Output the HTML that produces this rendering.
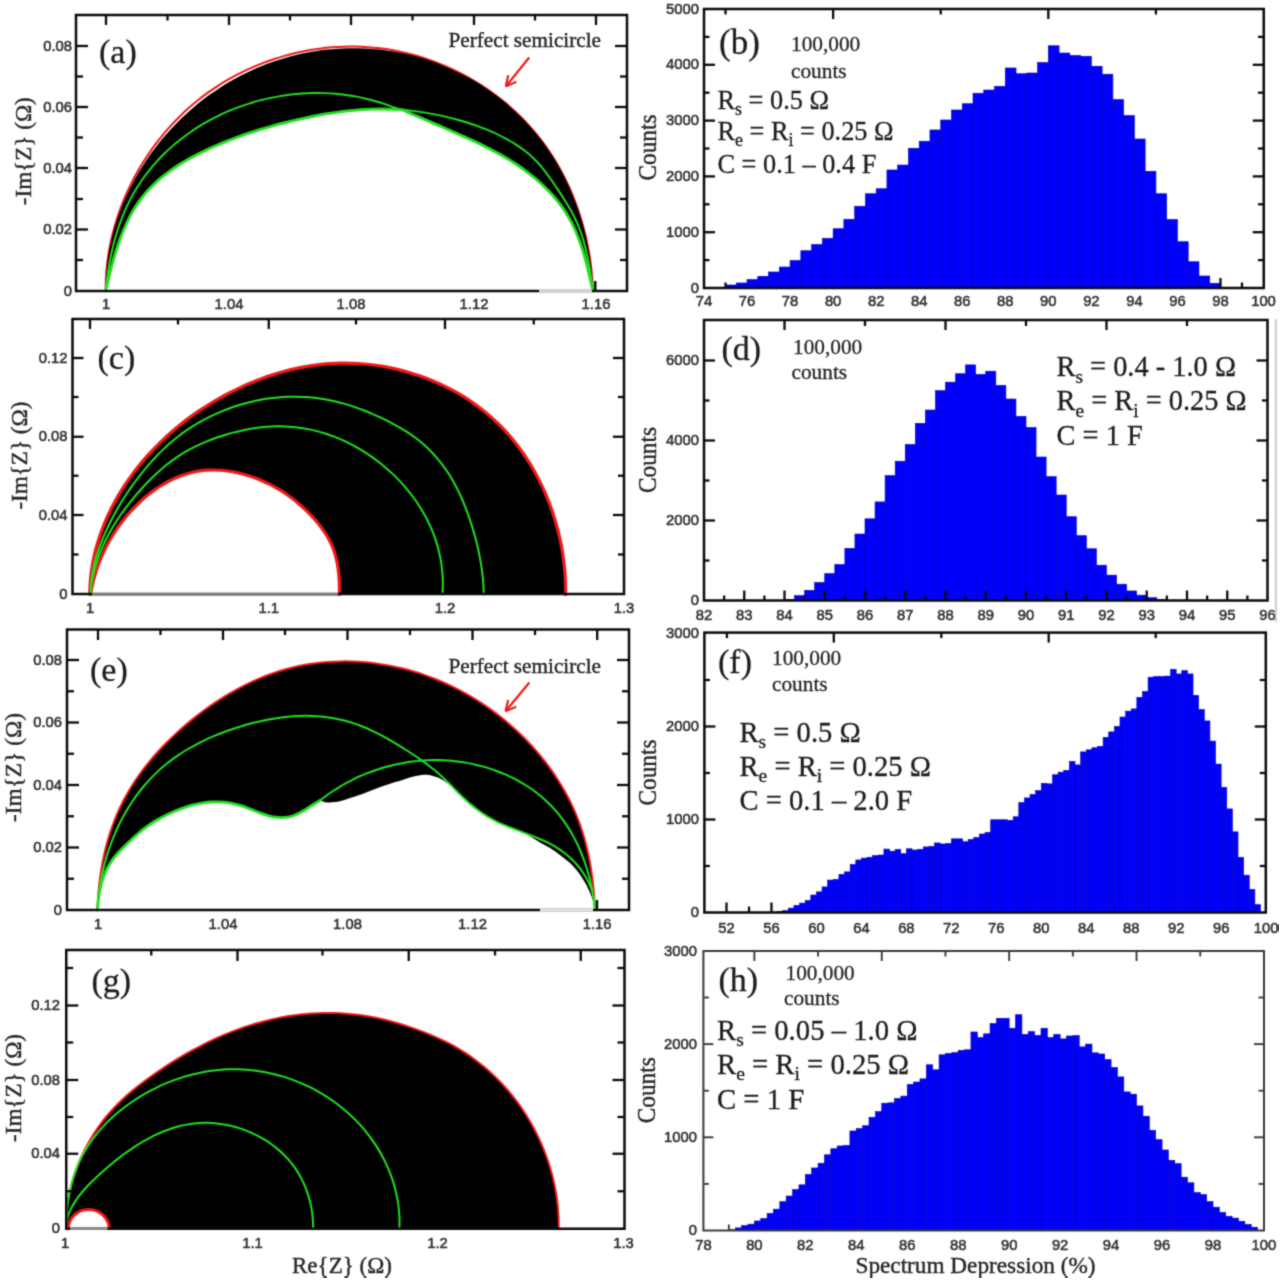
<!DOCTYPE html>
<html lang="en">
<head>
<meta charset="utf-8">
<title>Spectrum depression figure</title>
<style>
html,body{margin:0;padding:0;background:#fff;}
body{width:1280px;height:1280px;overflow:hidden;}
svg{display:block;}
</style>
</head>
<body>
<svg width="1280" height="1280" viewBox="0 0 1280 1280">
<defs>
<filter id="soft" x="0" y="0" width="100%" height="100%" color-interpolation-filters="sRGB"><feConvolveMatrix order="3" kernelMatrix="0.0311 0.1141 0.0311 0.1141 0.4191 0.1141 0.0311 0.1141 0.0311" edgeMode="duplicate"/></filter>
</defs>
<rect x="0" y="0" width="1280" height="1280" fill="#ffffff"/>
<g filter="url(#soft)">
<path d="M105.6 291C105.65 288.97 105.68 282.89 105.88 278.85C106.08 274.8 106.39 270.76 106.81 266.73C107.22 262.71 107.75 258.69 108.38 254.69C109 250.69 109.74 246.71 110.57 242.74C111.4 238.78 112.33 234.84 113.37 230.92C114.4 227 115.53 223.11 116.75 219.24C117.98 215.38 119.31 211.54 120.72 207.74C122.14 203.94 123.65 200.17 125.25 196.44C126.85 192.71 128.54 189.02 130.32 185.37C132.1 181.72 133.97 178.11 135.92 174.55C137.87 170.99 139.91 167.47 142.03 164.01C144.15 160.54 146.36 157.13 148.64 153.77C150.93 150.42 153.29 147.11 155.74 143.87C158.18 140.63 160.7 137.44 163.3 134.33C165.89 131.21 168.57 128.15 171.31 125.17C174.05 122.18 176.87 119.26 179.76 116.42C182.64 113.58 185.6 110.81 188.62 108.11C191.65 105.42 194.74 102.8 197.9 100.27C201.05 97.73 204.28 95.28 207.56 92.91C210.84 90.54 214.18 88.26 217.58 86.06C220.98 83.87 224.44 81.75 227.95 79.73C231.45 77.71 235.01 75.77 238.62 73.92C242.22 72.07 245.87 70.31 249.56 68.64C253.25 66.98 256.99 65.4 260.76 63.91C264.53 62.42 268.34 61.03 272.18 59.73C276.01 58.42 279.89 57.21 283.78 56.1C287.68 54.99 291.61 53.97 295.55 53.04C299.5 52.12 303.47 51.29 307.45 50.56C311.43 49.84 315.44 49.2 319.45 48.67C323.47 48.14 327.5 47.7 331.53 47.37C335.56 47.04 339.61 46.81 343.65 46.68C347.69 46.55 351.74 46.52 355.79 46.59C359.83 46.67 363.88 46.84 367.91 47.13C371.94 47.41 375.97 47.8 379.99 48.29C384 48.79 388.01 49.39 391.99 50.1C395.98 50.8 399.95 51.61 403.9 52.52C407.85 53.43 411.78 54.44 415.67 55.55C419.57 56.66 423.45 57.87 427.29 59.18C431.13 60.48 434.94 61.88 438.72 63.38C442.49 64.87 446.23 66.46 449.92 68.14C453.62 69.82 457.28 71.59 460.89 73.45C464.49 75.31 468.06 77.26 471.57 79.29C475.08 81.32 478.55 83.45 481.95 85.65C485.36 87.85 488.71 90.14 492 92.51C495.29 94.87 498.52 97.32 501.68 99.85C504.84 102.38 507.95 104.98 510.97 107.66C514 110.35 516.96 113.1 519.84 115.93C522.73 118.76 525.54 121.67 528.26 124.64C530.99 127.62 533.64 130.66 536.2 133.78C538.77 136.89 541.25 140.07 543.64 143.32C546.03 146.56 548.33 149.87 550.55 153.24C552.77 156.61 554.9 160.04 556.95 163.52C558.99 167 560.95 170.54 562.82 174.12C564.69 177.7 566.47 181.34 568.17 185.01C569.87 188.69 571.48 192.41 573.01 196.17C574.53 199.92 575.97 203.72 577.32 207.55C578.68 211.37 579.94 215.24 581.12 219.12C582.3 223.01 583.39 226.93 584.4 230.87C585.4 234.81 586.32 238.77 587.15 242.75C587.99 246.73 588.73 250.73 589.39 254.73C590.05 258.74 590.63 262.76 591.11 266.79C591.6 270.82 592 274.85 592.32 278.89C592.63 282.92 592.89 288.98 593 291" fill="none" stroke="#f01818" stroke-width="2" stroke-linejoin="round" stroke-linecap="round"/>
<path d="M105.6 291C105.64 289.21 105.67 283.83 105.84 280.27C106 276.71 106.25 273.15 106.59 269.62C106.92 266.09 107.35 262.57 107.85 259.07C108.35 255.57 108.93 252.09 109.6 248.63C110.26 245.17 111 241.73 111.82 238.31C112.64 234.89 113.54 231.5 114.51 228.13C115.49 224.76 116.54 221.41 117.66 218.09C118.78 214.78 119.98 211.48 121.25 208.22C122.51 204.96 123.85 201.72 125.26 198.52C126.67 195.32 128.15 192.14 129.69 189.01C131.23 185.87 132.85 182.76 134.52 179.69C136.2 176.62 137.94 173.59 139.74 170.59C141.55 167.6 143.41 164.63 145.34 161.72C147.27 158.8 149.26 155.92 151.3 153.08C153.35 150.24 155.46 147.44 157.62 144.69C159.78 141.94 162 139.23 164.27 136.57C166.54 133.9 168.87 131.29 171.25 128.72C173.63 126.15 176.06 123.63 178.55 121.16C181.03 118.69 183.56 116.27 186.14 113.9C188.72 111.54 191.35 109.22 194.02 106.96C196.7 104.7 199.42 102.5 202.18 100.35C204.95 98.2 207.75 96.11 210.6 94.08C213.45 92.05 216.35 90.07 219.28 88.16C222.21 86.25 225.18 84.39 228.19 82.6C231.19 80.82 234.24 79.09 237.32 77.43C240.4 75.77 243.52 74.17 246.67 72.65C249.82 71.12 253 69.66 256.21 68.27C259.43 66.88 262.68 65.56 265.95 64.31C269.22 63.06 272.53 61.88 275.85 60.77C279.18 59.67 282.53 58.63 285.9 57.67C289.28 56.7 292.67 55.81 296.09 54.99C299.5 54.17 302.93 53.43 306.38 52.75C309.82 52.08 313.29 51.48 316.76 50.95C320.23 50.42 323.71 49.97 327.2 49.59C330.69 49.21 334.2 48.91 337.7 48.68C341.2 48.45 344.71 48.3 348.22 48.22C351.73 48.14 355.25 48.13 358.75 48.21C362.26 48.28 365.77 48.43 369.27 48.65C372.77 48.88 376.27 49.18 379.76 49.56C383.24 49.94 386.72 50.4 390.19 50.93C393.65 51.46 397.11 52.08 400.54 52.77C403.98 53.46 407.41 54.23 410.81 55.08C414.21 55.92 417.6 56.85 420.96 57.86C424.32 58.87 427.66 59.95 430.97 61.12C434.28 62.29 437.57 63.53 440.83 64.86C444.09 66.19 445.39 66.68 450.51 69.09C455.64 71.49 466.33 76.53 471.57 79.29C476.81 82.05 478.55 83.45 481.95 85.65C485.36 87.85 488.71 90.14 492 92.51C495.29 94.87 498.52 97.32 501.68 99.85C504.84 102.38 507.95 104.98 510.97 107.66C514 110.35 516.96 113.1 519.84 115.93C522.73 118.76 525.54 121.67 528.26 124.64C530.99 127.62 533.64 130.66 536.2 133.78C538.77 136.89 541.25 140.07 543.64 143.32C546.03 146.56 548.33 149.87 550.55 153.24C552.77 156.61 554.9 160.04 556.95 163.52C558.99 167 560.95 170.54 562.82 174.12C564.69 177.7 566.47 181.34 568.17 185.01C569.87 188.69 571.48 192.41 573.01 196.17C574.53 199.92 575.97 203.72 577.32 207.55C578.68 211.37 579.94 215.24 581.12 219.12C582.3 223.01 583.39 226.93 584.4 230.87C585.4 234.81 586.32 238.77 587.15 242.75C587.99 246.73 588.73 250.73 589.39 254.73C590.05 258.74 590.63 262.76 591.11 266.79C591.6 270.82 592 274.85 592.32 278.89C592.63 282.92 592.89 288.98 593 291L593 291C592.6 289.25 591.44 284.01 590.62 280.48C589.8 276.95 588.97 273.37 588.09 269.81C587.2 266.26 586.29 262.67 585.3 259.12C584.31 255.58 583.27 252.02 582.13 248.52C581 245.02 579.8 241.53 578.48 238.11C577.17 234.69 575.77 231.31 574.23 228.01C572.69 224.71 571.05 221.47 569.26 218.33C567.47 215.19 565.55 212.13 563.51 209.16C561.47 206.18 559.3 203.29 557.04 200.49C554.78 197.68 552.39 194.96 549.93 192.32C547.46 189.68 544.89 187.13 542.25 184.65C539.61 182.18 536.87 179.78 534.09 177.47C531.3 175.15 528.43 172.92 525.52 170.77C522.61 168.61 519.63 166.54 516.62 164.53C513.6 162.53 510.54 160.6 507.44 158.73C504.34 156.86 501.19 155.06 498.01 153.3C494.84 151.54 491.62 149.85 488.39 148.18C485.15 146.52 481.88 144.91 478.59 143.33C475.3 141.74 471.99 140.2 468.66 138.68C465.34 137.15 461.99 135.66 458.64 134.17C455.29 132.69 451.93 131.23 448.57 129.76C445.21 128.3 441.84 126.84 438.48 125.38C435.11 123.93 431.75 122.46 428.39 121.02C425.03 119.58 421.66 118.13 418.29 116.73C414.92 115.32 410.56 113.7 408.17 112.58C405.78 111.46 406.45 110.56 403.97 110.01C401.48 109.46 396.83 109.46 393.26 109.29C389.69 109.12 386.11 109.01 382.54 108.98C378.96 108.96 375.39 109 371.82 109.11C368.25 109.23 364.69 109.41 361.13 109.66C357.56 109.9 354.01 110.21 350.45 110.58C346.9 110.94 343.35 111.36 339.81 111.84C336.27 112.31 332.74 112.84 329.21 113.4C325.69 113.97 322.17 114.59 318.66 115.24C315.15 115.89 311.65 116.59 308.16 117.31C304.66 118.04 301.18 118.8 297.71 119.59C294.24 120.38 290.78 121.19 287.33 122.04C283.88 122.89 280.44 123.77 277.02 124.69C273.59 125.6 270.17 126.55 266.76 127.54C263.35 128.53 259.95 129.55 256.56 130.62C253.17 131.68 249.78 132.78 246.41 133.93C243.04 135.08 239.68 136.27 236.32 137.5C232.96 138.74 229.62 140.01 226.28 141.34C222.94 142.67 219.6 144.04 216.29 145.47C212.97 146.9 209.65 148.37 206.37 149.91C203.1 151.45 199.83 153.04 196.62 154.7C193.4 156.36 190.22 158.08 187.1 159.88C183.97 161.67 180.89 163.53 177.89 165.47C174.88 167.42 171.93 169.43 169.07 171.54C166.2 173.64 163.41 175.82 160.71 178.09C158.02 180.37 155.4 182.73 152.91 185.19C150.41 187.65 148 190.2 145.72 192.86C143.45 195.51 141.28 198.27 139.24 201.13C137.2 203.99 135.29 206.97 133.49 210.01C131.68 213.05 129.99 216.2 128.4 219.4C126.8 222.59 125.32 225.87 123.91 229.19C122.5 232.51 121.19 235.89 119.94 239.29C118.7 242.7 117.54 246.15 116.43 249.61C115.33 253.07 114.3 256.56 113.32 260.04C112.33 263.51 111.41 267.01 110.52 270.48C109.63 273.94 108.79 277.41 107.97 280.83C107.15 284.25 105.99 289.31 105.6 291Z" fill="#000000" stroke="none"/>
<path d="M105.6 291C105.99 289.31 107.15 284.25 107.97 280.83C108.79 277.41 109.63 273.94 110.52 270.48C111.41 267.01 112.33 263.51 113.32 260.04C114.3 256.56 115.33 253.07 116.43 249.61C117.54 246.15 118.7 242.7 119.94 239.29C121.19 235.89 122.5 232.51 123.91 229.19C125.32 225.87 126.8 222.59 128.4 219.4C129.99 216.2 131.68 213.05 133.49 210.01C135.29 206.97 137.2 203.99 139.24 201.13C141.28 198.27 143.45 195.51 145.72 192.86C148 190.2 150.41 187.65 152.91 185.19C155.4 182.73 158.02 180.37 160.71 178.09C163.41 175.82 166.2 173.64 169.07 171.54C171.93 169.43 174.88 167.42 177.89 165.47C180.89 163.53 183.97 161.67 187.1 159.88C190.22 158.08 193.4 156.36 196.62 154.7C199.83 153.04 203.1 151.45 206.37 149.91C209.65 148.37 212.97 146.9 216.29 145.47C219.6 144.04 222.94 142.67 226.28 141.34C229.62 140.01 232.96 138.74 236.32 137.5C239.68 136.27 243.04 135.08 246.41 133.93C249.78 132.78 253.17 131.68 256.56 130.62C259.95 129.55 263.35 128.53 266.76 127.54C270.17 126.55 273.59 125.6 277.02 124.69C280.44 123.77 283.88 122.89 287.33 122.04C290.78 121.19 294.24 120.38 297.71 119.59C301.18 118.8 304.66 118.04 308.16 117.31C311.65 116.59 315.15 115.89 318.66 115.24C322.17 114.59 325.69 113.97 329.21 113.4C332.74 112.84 336.27 112.31 339.81 111.84C343.35 111.36 346.9 110.94 350.45 110.58C354.01 110.21 357.56 109.9 361.13 109.66C364.69 109.41 368.25 109.23 371.82 109.11C375.39 109 378.96 108.96 382.54 108.98C386.11 109.01 389.69 109.12 393.26 109.29C396.83 109.46 401.48 109.46 403.97 110.01C406.45 110.56 405.78 111.46 408.17 112.58C410.56 113.7 414.92 115.32 418.29 116.73C421.66 118.13 425.03 119.58 428.39 121.02C431.75 122.46 435.11 123.93 438.48 125.38C441.84 126.84 445.21 128.3 448.57 129.76C451.93 131.23 455.29 132.69 458.64 134.17C461.99 135.66 465.34 137.15 468.66 138.68C471.99 140.2 475.3 141.74 478.59 143.33C481.88 144.91 485.15 146.52 488.39 148.18C491.62 149.85 494.84 151.54 498.01 153.3C501.19 155.06 504.34 156.86 507.44 158.73C510.54 160.6 513.6 162.53 516.62 164.53C519.63 166.54 522.61 168.61 525.52 170.77C528.43 172.92 531.3 175.15 534.09 177.47C536.87 179.78 539.61 182.18 542.25 184.65C544.89 187.13 547.46 189.68 549.93 192.32C552.39 194.96 554.78 197.68 557.04 200.49C559.3 203.29 561.47 206.18 563.51 209.16C565.55 212.13 567.47 215.19 569.26 218.33C571.05 221.47 572.69 224.71 574.23 228.01C575.77 231.31 577.17 234.69 578.48 238.11C579.8 241.53 581 245.02 582.13 248.52C583.27 252.02 584.31 255.58 585.3 259.12C586.29 262.67 587.2 266.26 588.09 269.81C588.97 273.37 589.8 276.95 590.62 280.48C591.44 284.01 592.6 289.25 593 291" fill="none" stroke="#20e020" stroke-width="2.8" stroke-linejoin="round" stroke-linecap="round"/>
<path d="M105.6 291C105.8 289.22 106.35 283.88 106.81 280.3C107.27 276.72 107.78 273.12 108.36 269.53C108.94 265.93 109.58 262.32 110.3 258.73C111.01 255.14 111.79 251.54 112.65 247.97C113.51 244.39 114.43 240.83 115.45 237.3C116.46 233.76 117.54 230.24 118.72 226.77C119.9 223.3 121.15 219.85 122.51 216.45C123.86 213.05 125.3 209.69 126.84 206.39C128.37 203.09 130.01 199.83 131.74 196.64C133.47 193.45 135.3 190.32 137.23 187.25C139.15 184.18 141.17 181.18 143.27 178.23C145.37 175.29 147.57 172.41 149.84 169.6C152.12 166.79 154.48 164.05 156.91 161.37C159.35 158.7 161.86 156.09 164.45 153.55C167.03 151.02 169.7 148.55 172.42 146.16C175.15 143.77 177.94 141.45 180.8 139.21C183.66 136.97 186.58 134.8 189.56 132.71C192.53 130.62 195.57 128.61 198.66 126.68C201.75 124.75 204.89 122.9 208.08 121.12C211.27 119.35 214.51 117.66 217.78 116.05C221.06 114.44 224.39 112.91 227.75 111.47C231.11 110.02 234.51 108.66 237.94 107.38C241.37 106.1 244.83 104.9 248.32 103.79C251.81 102.67 255.33 101.64 258.88 100.7C262.42 99.76 265.98 98.9 269.56 98.13C273.15 97.36 276.75 96.67 280.36 96.07C283.97 95.47 287.6 94.96 291.23 94.54C294.87 94.12 298.51 93.78 302.15 93.54C305.8 93.29 309.45 93.13 313.09 93.07C316.73 93 320.38 93.03 324.01 93.14C327.65 93.26 331.28 93.46 334.89 93.76C338.51 94.06 342.11 94.45 345.7 94.94C349.28 95.42 352.86 96 356.4 96.67C359.95 97.34 363.47 98.12 366.98 98.97C370.48 99.82 373.96 100.77 377.42 101.78C380.88 102.79 384.32 103.89 387.75 105.04C391.18 106.18 394.59 107.4 398 108.66C401.4 109.92 404.79 111.24 408.17 112.58C411.55 113.93 414.92 115.32 418.29 116.73C421.66 118.13 425.03 119.58 428.39 121.02C431.75 122.46 435.11 123.93 438.48 125.38C441.84 126.84 445.21 128.3 448.57 129.76C451.93 131.23 455.29 132.69 458.64 134.17C461.99 135.66 465.34 137.15 468.66 138.68C471.99 140.2 475.3 141.74 478.59 143.33C481.88 144.91 485.15 146.52 488.39 148.18C491.62 149.85 494.84 151.54 498.01 153.3C501.19 155.06 504.34 156.86 507.44 158.73C510.54 160.6 513.6 162.53 516.62 164.53C519.63 166.54 522.61 168.61 525.52 170.77C528.43 172.92 531.3 175.15 534.09 177.47C536.87 179.78 539.61 182.18 542.25 184.65C544.89 187.13 547.46 189.68 549.93 192.32C552.39 194.96 554.78 197.68 557.04 200.49C559.3 203.29 561.47 206.18 563.51 209.16C565.55 212.13 567.47 215.19 569.26 218.33C571.05 221.47 572.69 224.71 574.23 228.01C575.77 231.31 577.17 234.69 578.48 238.11C579.8 241.53 581 245.02 582.13 248.52C583.27 252.02 584.31 255.58 585.3 259.12C586.29 262.67 587.2 266.26 588.09 269.81C588.97 273.37 589.8 276.95 590.62 280.48C591.44 284.01 592.6 289.25 593 291" fill="none" stroke="#20e020" stroke-width="1.9" stroke-linejoin="round" stroke-linecap="round"/>
<path d="M105.6 291C105.99 289.31 107.15 284.25 107.97 280.83C108.79 277.41 109.63 273.94 110.52 270.48C111.41 267.01 112.33 263.51 113.32 260.04C114.3 256.56 115.33 253.07 116.43 249.61C117.54 246.15 118.7 242.7 119.94 239.29C121.19 235.89 122.5 232.51 123.91 229.19C125.32 225.87 126.8 222.59 128.4 219.4C129.99 216.2 131.68 213.05 133.49 210.01C135.29 206.97 137.2 203.99 139.24 201.13C141.28 198.27 143.45 195.51 145.72 192.86C148 190.2 150.41 187.65 152.91 185.19C155.4 182.73 158.02 180.37 160.71 178.09C163.41 175.82 166.2 173.64 169.07 171.54C171.93 169.43 174.88 167.42 177.89 165.47C180.89 163.53 183.97 161.67 187.1 159.88C190.22 158.08 193.4 156.36 196.62 154.7C199.83 153.04 203.1 151.45 206.37 149.91C209.65 148.37 212.97 146.9 216.29 145.47C219.6 144.04 222.94 142.67 226.28 141.34C229.62 140.01 232.96 138.74 236.32 137.5C239.68 136.27 243.04 135.08 246.41 133.93C249.78 132.78 253.17 131.68 256.56 130.62C259.95 129.55 263.35 128.53 266.76 127.54C270.17 126.55 273.59 125.6 277.02 124.69C280.44 123.77 283.88 122.89 287.33 122.04C290.78 121.19 294.24 120.38 297.71 119.59C301.18 118.8 304.66 118.04 308.16 117.31C311.65 116.59 315.15 115.89 318.66 115.24C322.17 114.59 325.69 113.97 329.21 113.4C332.74 112.84 336.27 112.31 339.81 111.84C343.35 111.36 346.9 110.94 350.45 110.58C354.01 110.21 357.56 109.9 361.13 109.66C364.69 109.41 368.25 109.23 371.82 109.11C375.39 109 378.96 108.96 382.54 108.98C386.11 109.01 389.69 109.12 393.26 109.29C396.83 109.46 400.4 109.7 403.97 110.01C407.53 110.32 411.1 110.7 414.65 111.15C418.2 111.59 421.74 112.1 425.28 112.68C428.81 113.25 432.33 113.89 435.84 114.59C439.34 115.29 442.84 116.05 446.31 116.87C449.78 117.69 453.24 118.58 456.67 119.51C460.11 120.45 463.52 121.44 466.91 122.5C470.3 123.56 473.67 124.67 477.01 125.87C480.35 127.07 483.66 128.33 486.95 129.68C490.24 131.04 493.5 132.47 496.73 134C499.95 135.54 503.17 137.16 506.32 138.89C509.46 140.63 512.59 142.46 515.61 144.4C518.63 146.35 521.61 148.39 524.44 150.57C527.28 152.74 530.04 155.02 532.63 157.43C535.23 159.84 537.69 162.38 540.01 165.03C542.34 167.68 544.45 170.49 546.57 173.33C548.69 176.16 550.69 179.09 552.72 182.02C554.75 184.95 556.76 187.91 558.74 190.89C560.71 193.87 562.68 196.86 564.58 199.89C566.47 202.91 568.34 205.95 570.09 209.05C571.84 212.15 573.52 215.28 575.05 218.48C576.58 221.68 577.98 224.95 579.27 228.27C580.55 231.59 581.7 234.98 582.76 238.39C583.81 241.81 584.75 245.28 585.62 248.76C586.49 252.24 587.25 255.76 587.97 259.29C588.69 262.81 589.31 266.36 589.91 269.89C590.51 273.43 591.04 276.97 591.55 280.49C592.07 284.01 592.76 289.25 593 291" fill="none" stroke="#20e020" stroke-width="1.9" stroke-linejoin="round" stroke-linecap="round"/>
<rect x="76" y="15" width="551" height="276" fill="none" stroke="#0a0a0a" stroke-width="2.5"/>
<line x1="106" y1="15" x2="106" y2="25" stroke="#0a0a0a" stroke-width="2.3"/>
<line x1="229" y1="15" x2="229" y2="25" stroke="#0a0a0a" stroke-width="2.3"/>
<line x1="351" y1="15" x2="351" y2="25" stroke="#0a0a0a" stroke-width="2.3"/>
<line x1="474" y1="15" x2="474" y2="25" stroke="#0a0a0a" stroke-width="2.3"/>
<line x1="596" y1="15" x2="596" y2="25" stroke="#0a0a0a" stroke-width="2.3"/>
<line x1="167.5" y1="15" x2="167.5" y2="20.5" stroke="#0a0a0a" stroke-width="2.3"/>
<line x1="290" y1="15" x2="290" y2="20.5" stroke="#0a0a0a" stroke-width="2.3"/>
<line x1="412.5" y1="15" x2="412.5" y2="20.5" stroke="#0a0a0a" stroke-width="2.3"/>
<line x1="535" y1="15" x2="535" y2="20.5" stroke="#0a0a0a" stroke-width="2.3"/>
<line x1="76" y1="46" x2="88" y2="46" stroke="#0a0a0a" stroke-width="2.3"/>
<line x1="76" y1="107" x2="88" y2="107" stroke="#0a0a0a" stroke-width="2.3"/>
<line x1="76" y1="168" x2="88" y2="168" stroke="#0a0a0a" stroke-width="2.3"/>
<line x1="76" y1="229.5" x2="88" y2="229.5" stroke="#0a0a0a" stroke-width="2.3"/>
<line x1="76" y1="76.5" x2="83" y2="76.5" stroke="#0a0a0a" stroke-width="2.3"/>
<line x1="76" y1="137.5" x2="83" y2="137.5" stroke="#0a0a0a" stroke-width="2.3"/>
<line x1="76" y1="199" x2="83" y2="199" stroke="#0a0a0a" stroke-width="2.3"/>
<line x1="76" y1="260" x2="83" y2="260" stroke="#0a0a0a" stroke-width="2.3"/>
<line x1="627" y1="46" x2="615" y2="46" stroke="#0a0a0a" stroke-width="2.3"/>
<line x1="627" y1="107" x2="615" y2="107" stroke="#0a0a0a" stroke-width="2.3"/>
<line x1="627" y1="168" x2="615" y2="168" stroke="#0a0a0a" stroke-width="2.3"/>
<line x1="627" y1="229.5" x2="615" y2="229.5" stroke="#0a0a0a" stroke-width="2.3"/>
<line x1="627" y1="76.5" x2="620" y2="76.5" stroke="#0a0a0a" stroke-width="2.3"/>
<line x1="627" y1="137.5" x2="620" y2="137.5" stroke="#0a0a0a" stroke-width="2.3"/>
<line x1="627" y1="199" x2="620" y2="199" stroke="#0a0a0a" stroke-width="2.3"/>
<line x1="627" y1="260" x2="620" y2="260" stroke="#0a0a0a" stroke-width="2.3"/>
<line x1="595.3" y1="291" x2="595.3" y2="281" stroke="#0a0a0a" stroke-width="2.4"/>
<line x1="539" y1="291" x2="592" y2="291" stroke="#d4d4d4" stroke-width="2.8"/>
<text x="106" y="309.3" font-size="14.8" font-family='"Liberation Sans", Arial, sans-serif' text-anchor="middle" fill="#333" stroke="#333" stroke-width="0.55">1</text>
<text x="229" y="309.3" font-size="14.8" font-family='"Liberation Sans", Arial, sans-serif' text-anchor="middle" fill="#333" stroke="#333" stroke-width="0.55">1.04</text>
<text x="351" y="309.3" font-size="14.8" font-family='"Liberation Sans", Arial, sans-serif' text-anchor="middle" fill="#333" stroke="#333" stroke-width="0.55">1.08</text>
<text x="474" y="309.3" font-size="14.8" font-family='"Liberation Sans", Arial, sans-serif' text-anchor="middle" fill="#333" stroke="#333" stroke-width="0.55">1.12</text>
<text x="596" y="309.3" font-size="14.8" font-family='"Liberation Sans", Arial, sans-serif' text-anchor="middle" fill="#333" stroke="#333" stroke-width="0.55">1.16</text>
<text x="72" y="50.6" font-size="14.8" font-family='"Liberation Sans", Arial, sans-serif' text-anchor="end" fill="#333" stroke="#333" stroke-width="0.55">0.08</text>
<text x="72" y="111.6" font-size="14.8" font-family='"Liberation Sans", Arial, sans-serif' text-anchor="end" fill="#333" stroke="#333" stroke-width="0.55">0.06</text>
<text x="72" y="172.6" font-size="14.8" font-family='"Liberation Sans", Arial, sans-serif' text-anchor="end" fill="#333" stroke="#333" stroke-width="0.55">0.04</text>
<text x="72" y="234.1" font-size="14.8" font-family='"Liberation Sans", Arial, sans-serif' text-anchor="end" fill="#333" stroke="#333" stroke-width="0.55">0.02</text>
<text x="72" y="295.6" font-size="14.8" font-family='"Liberation Sans", Arial, sans-serif' text-anchor="end" fill="#333" stroke="#333" stroke-width="0.55">0</text>
<text transform="translate(31 151.25) rotate(-90)" font-size="24" font-family='"Liberation Serif", "Times New Roman", serif' text-anchor="middle" fill="#262626" textLength="108" lengthAdjust="spacingAndGlyphs" stroke="#262626" stroke-width="0.4">-Im{Z} (Ω)</text>
<text x="99" y="62.5" font-size="34" font-family='"Liberation Serif", "Times New Roman", serif' text-anchor="start" fill="#1c1c1c" stroke="#1c1c1c" stroke-width="0.3">(a)</text>
<text x="448.5" y="47.3" font-size="21" font-family='"Liberation Serif", "Times New Roman", serif' text-anchor="start" fill="#262626" textLength="152.5" lengthAdjust="spacingAndGlyphs" stroke="#262626" stroke-width="0.4">Perfect semicircle</text>
<line x1="529.2" y1="57.5" x2="505.8" y2="86.4" stroke="#f01818" stroke-width="2.2"/>
<line x1="505.8" y1="86.4" x2="508.2" y2="75.15" stroke="#f01818" stroke-width="2.2"/>
<line x1="505.8" y1="86.4" x2="516.3" y2="81.71" stroke="#f01818" stroke-width="2.2"/>
<path d="M89.75 594.4C89.83 592.44 89.94 586.55 90.22 582.65C90.51 578.76 90.93 574.88 91.46 571.03C91.99 567.18 92.65 563.36 93.42 559.56C94.19 555.76 95.09 551.99 96.08 548.25C97.08 544.52 98.2 540.81 99.41 537.13C100.62 533.46 101.95 529.82 103.37 526.22C104.79 522.62 106.32 519.05 107.93 515.53C109.55 512 111.27 508.52 113.07 505.08C114.87 501.64 116.77 498.24 118.74 494.89C120.72 491.54 122.79 488.24 124.93 484.98C127.07 481.73 129.29 478.53 131.59 475.38C133.88 472.23 136.26 469.13 138.69 466.09C141.13 463.05 143.64 460.06 146.21 457.13C148.78 454.21 151.42 451.34 154.11 448.54C156.81 445.73 159.56 442.99 162.37 440.31C165.18 437.62 168.05 435 170.97 432.45C173.9 429.89 176.87 427.39 179.9 424.96C182.92 422.53 186 420.16 189.12 417.85C192.25 415.55 195.42 413.3 198.64 411.12C201.85 408.95 205.12 406.83 208.42 404.78C211.72 402.73 215.07 400.75 218.46 398.83C221.84 396.91 225.26 395.05 228.72 393.27C232.18 391.48 235.68 389.75 239.21 388.1C242.74 386.44 246.3 384.85 249.89 383.33C253.48 381.82 257.11 380.37 260.76 379C264.4 377.63 268.08 376.33 271.79 375.12C275.49 373.91 279.22 372.77 282.97 371.73C286.72 370.69 290.49 369.73 294.28 368.86C298.07 368 301.88 367.22 305.71 366.55C309.54 365.87 313.39 365.29 317.24 364.81C321.1 364.34 324.98 363.96 328.86 363.69C332.74 363.42 336.64 363.25 340.53 363.18C344.43 363.11 348.33 363.14 352.23 363.28C356.12 363.41 360.02 363.64 363.91 363.98C367.79 364.31 371.68 364.74 375.54 365.27C379.41 365.8 383.26 366.43 387.1 367.15C390.93 367.88 394.75 368.7 398.54 369.62C402.33 370.53 406.1 371.55 409.83 372.66C413.57 373.76 417.27 374.97 420.94 376.26C424.61 377.56 428.25 378.95 431.84 380.43C435.43 381.91 438.99 383.48 442.49 385.15C445.99 386.81 449.45 388.57 452.85 390.42C456.26 392.26 459.61 394.2 462.9 396.23C466.19 398.25 469.43 400.37 472.6 402.57C475.77 404.77 478.88 407.06 481.92 409.44C484.95 411.82 487.92 414.28 490.81 416.83C493.7 419.38 496.52 422.02 499.26 424.73C501.99 427.45 504.65 430.26 507.23 433.13C509.8 436.01 512.3 438.97 514.71 442C517.13 445.02 519.46 448.13 521.71 451.29C523.96 454.45 526.13 457.68 528.21 460.97C530.3 464.25 532.3 467.6 534.21 471C536.13 474.4 537.96 477.86 539.71 481.35C541.46 484.85 543.12 488.4 544.7 491.99C546.27 495.57 547.76 499.2 549.16 502.87C550.57 506.53 551.88 510.23 553.11 513.95C554.34 517.68 555.48 521.44 556.53 525.22C557.57 528.99 558.54 532.8 559.41 536.61C560.28 540.43 561.06 544.27 561.75 548.11C562.44 551.96 563.04 555.82 563.54 559.68C564.05 563.54 564.47 567.41 564.79 571.27C565.11 575.14 565.34 579 565.48 582.86C565.61 586.71 565.58 592.48 565.6 594.4L339.4 594.4C339.4 593.22 339.46 589.7 339.43 587.34C339.4 584.98 339.33 582.6 339.21 580.24C339.08 577.87 338.91 575.5 338.67 573.14C338.42 570.79 338.13 568.44 337.75 566.12C337.37 563.8 336.92 561.48 336.38 559.21C335.85 556.94 335.23 554.69 334.51 552.48C333.8 550.28 332.98 548.11 332.08 545.99C331.17 543.86 330.16 541.78 329.08 539.74C328 537.7 326.82 535.7 325.59 533.74C324.35 531.78 323.03 529.86 321.66 527.98C320.28 526.11 318.84 524.27 317.35 522.47C315.86 520.66 314.32 518.9 312.73 517.18C311.15 515.45 309.52 513.77 307.87 512.12C306.21 510.47 304.52 508.86 302.8 507.29C301.07 505.72 299.32 504.18 297.53 502.69C295.74 501.2 293.92 499.75 292.07 498.34C290.22 496.93 288.34 495.57 286.42 494.25C284.5 492.93 282.56 491.65 280.58 490.42C278.6 489.19 276.59 488.01 274.54 486.87C272.5 485.74 270.42 484.65 268.32 483.62C266.21 482.58 264.07 481.59 261.9 480.66C259.73 479.72 257.53 478.84 255.3 478.01C253.08 477.18 250.82 476.41 248.54 475.7C246.26 474.98 243.96 474.33 241.65 473.74C239.34 473.15 237.01 472.62 234.67 472.17C232.34 471.71 229.99 471.32 227.64 471C225.29 470.69 222.93 470.44 220.58 470.27C218.24 470.11 215.88 470.01 213.55 470C211.21 469.99 208.88 470.06 206.56 470.22C204.25 470.37 201.95 470.61 199.67 470.94C197.39 471.27 195.13 471.69 192.89 472.2C190.65 472.7 188.44 473.29 186.24 473.96C184.05 474.62 181.88 475.38 179.74 476.2C177.6 477.02 175.48 477.92 173.39 478.88C171.3 479.85 169.24 480.89 167.2 481.99C165.17 483.09 163.16 484.26 161.18 485.49C159.21 486.71 157.26 488 155.34 489.35C153.43 490.69 151.54 492.09 149.69 493.54C147.84 494.98 146.02 496.49 144.24 498.03C142.46 499.57 140.71 501.17 139 502.8C137.29 504.43 135.61 506.1 133.98 507.81C132.34 509.52 130.74 511.26 129.18 513.04C127.62 514.81 126.1 516.62 124.62 518.45C123.14 520.29 121.7 522.16 120.3 524.05C118.9 525.94 117.55 527.86 116.23 529.81C114.92 531.76 113.64 533.73 112.42 535.73C111.19 537.73 110 539.75 108.86 541.8C107.72 543.84 106.63 545.91 105.58 548C104.53 550.09 103.53 552.2 102.57 554.33C101.61 556.46 100.7 558.61 99.84 560.78C98.97 562.94 98.16 565.13 97.39 567.33C96.63 569.53 95.91 571.75 95.24 573.98C94.57 576.21 93.95 578.46 93.39 580.71C92.82 582.97 92.3 585.24 91.84 587.52C91.37 589.81 90.81 593.25 90.6 594.4Z" fill="#000000" stroke="none"/>
<path d="M89.75 594.4C89.83 592.44 89.94 586.55 90.22 582.65C90.51 578.76 90.93 574.88 91.46 571.03C91.99 567.18 92.65 563.36 93.42 559.56C94.19 555.76 95.09 551.99 96.08 548.25C97.08 544.52 98.2 540.81 99.41 537.13C100.62 533.46 101.95 529.82 103.37 526.22C104.79 522.62 106.32 519.05 107.93 515.53C109.55 512 111.27 508.52 113.07 505.08C114.87 501.64 116.77 498.24 118.74 494.89C120.72 491.54 122.79 488.24 124.93 484.98C127.07 481.73 129.29 478.53 131.59 475.38C133.88 472.23 136.26 469.13 138.69 466.09C141.13 463.05 143.64 460.06 146.21 457.13C148.78 454.21 151.42 451.34 154.11 448.54C156.81 445.73 159.56 442.99 162.37 440.31C165.18 437.62 168.05 435 170.97 432.45C173.9 429.89 176.87 427.39 179.9 424.96C182.92 422.53 186 420.16 189.12 417.85C192.25 415.55 195.42 413.3 198.64 411.12C201.85 408.95 205.12 406.83 208.42 404.78C211.72 402.73 215.07 400.75 218.46 398.83C221.84 396.91 225.26 395.05 228.72 393.27C232.18 391.48 235.68 389.75 239.21 388.1C242.74 386.44 246.3 384.85 249.89 383.33C253.48 381.82 257.11 380.37 260.76 379C264.4 377.63 268.08 376.33 271.79 375.12C275.49 373.91 279.22 372.77 282.97 371.73C286.72 370.69 290.49 369.73 294.28 368.86C298.07 368 301.88 367.22 305.71 366.55C309.54 365.87 313.39 365.29 317.24 364.81C321.1 364.34 324.98 363.96 328.86 363.69C332.74 363.42 336.64 363.25 340.53 363.18C344.43 363.11 348.33 363.14 352.23 363.28C356.12 363.41 360.02 363.64 363.91 363.98C367.79 364.31 371.68 364.74 375.54 365.27C379.41 365.8 383.26 366.43 387.1 367.15C390.93 367.88 394.75 368.7 398.54 369.62C402.33 370.53 406.1 371.55 409.83 372.66C413.57 373.76 417.27 374.97 420.94 376.26C424.61 377.56 428.25 378.95 431.84 380.43C435.43 381.91 438.99 383.48 442.49 385.15C445.99 386.81 449.45 388.57 452.85 390.42C456.26 392.26 459.61 394.2 462.9 396.23C466.19 398.25 469.43 400.37 472.6 402.57C475.77 404.77 478.88 407.06 481.92 409.44C484.95 411.82 487.92 414.28 490.81 416.83C493.7 419.38 496.52 422.02 499.26 424.73C501.99 427.45 504.65 430.26 507.23 433.13C509.8 436.01 512.3 438.97 514.71 442C517.13 445.02 519.46 448.13 521.71 451.29C523.96 454.45 526.13 457.68 528.21 460.97C530.3 464.25 532.3 467.6 534.21 471C536.13 474.4 537.96 477.86 539.71 481.35C541.46 484.85 543.12 488.4 544.7 491.99C546.27 495.57 547.76 499.2 549.16 502.87C550.57 506.53 551.88 510.23 553.11 513.95C554.34 517.68 555.48 521.44 556.53 525.22C557.57 528.99 558.54 532.8 559.41 536.61C560.28 540.43 561.06 544.27 561.75 548.11C562.44 551.96 563.04 555.82 563.54 559.68C564.05 563.54 564.47 567.41 564.79 571.27C565.11 575.14 565.34 579 565.48 582.86C565.61 586.71 565.58 592.48 565.6 594.4" fill="none" stroke="#f01818" stroke-width="3.2" stroke-linejoin="round" stroke-linecap="round"/>
<path d="M90.6 594.4C90.81 593.25 91.37 589.81 91.84 587.52C92.3 585.24 92.82 582.97 93.39 580.71C93.95 578.46 94.57 576.21 95.24 573.98C95.91 571.75 96.63 569.53 97.39 567.33C98.16 565.13 98.97 562.94 99.84 560.78C100.7 558.61 101.61 556.46 102.57 554.33C103.53 552.2 104.53 550.09 105.58 548C106.63 545.91 107.72 543.84 108.86 541.8C110 539.75 111.19 537.73 112.42 535.73C113.64 533.73 114.92 531.76 116.23 529.81C117.55 527.86 118.9 525.94 120.3 524.05C121.7 522.16 123.14 520.29 124.62 518.45C126.1 516.62 127.62 514.81 129.18 513.04C130.74 511.26 132.34 509.52 133.98 507.81C135.61 506.1 137.29 504.43 139 502.8C140.71 501.17 142.46 499.57 144.24 498.03C146.02 496.49 147.84 494.98 149.69 493.54C151.54 492.09 153.43 490.69 155.34 489.35C157.26 488 159.21 486.71 161.18 485.49C163.16 484.26 165.17 483.09 167.2 481.99C169.24 480.89 171.3 479.85 173.39 478.88C175.48 477.92 177.6 477.02 179.74 476.2C181.88 475.38 184.05 474.62 186.24 473.96C188.44 473.29 190.65 472.7 192.89 472.2C195.13 471.69 197.39 471.27 199.67 470.94C201.95 470.61 204.25 470.37 206.56 470.22C208.88 470.06 211.21 469.99 213.55 470C215.88 470.01 218.24 470.11 220.58 470.27C222.93 470.44 225.29 470.69 227.64 471C229.99 471.32 232.34 471.71 234.67 472.17C237.01 472.62 239.34 473.15 241.65 473.74C243.96 474.33 246.26 474.98 248.54 475.7C250.82 476.41 253.08 477.18 255.3 478.01C257.53 478.84 259.73 479.72 261.9 480.66C264.07 481.59 266.21 482.58 268.32 483.62C270.42 484.65 272.5 485.74 274.54 486.87C276.59 488.01 278.6 489.19 280.58 490.42C282.56 491.65 284.5 492.93 286.42 494.25C288.34 495.57 290.22 496.93 292.07 498.34C293.92 499.75 295.74 501.2 297.53 502.69C299.32 504.18 301.07 505.72 302.8 507.29C304.52 508.86 306.21 510.47 307.87 512.12C309.52 513.77 311.15 515.45 312.73 517.18C314.32 518.9 315.86 520.66 317.35 522.47C318.84 524.27 320.28 526.11 321.66 527.98C323.03 529.86 324.35 531.78 325.59 533.74C326.82 535.7 328 537.7 329.08 539.74C330.16 541.78 331.17 543.86 332.08 545.99C332.98 548.11 333.8 550.28 334.51 552.48C335.23 554.69 335.85 556.94 336.38 559.21C336.92 561.48 337.37 563.8 337.75 566.12C338.13 568.44 338.42 570.79 338.67 573.14C338.91 575.5 339.08 577.87 339.21 580.24C339.33 582.6 339.4 584.98 339.43 587.34C339.46 589.7 339.4 593.22 339.4 594.4" fill="none" stroke="#f01818" stroke-width="3.2" stroke-linejoin="round" stroke-linecap="round"/>
<path d="M90.6 594.4C90.66 592.75 90.73 587.77 90.99 584.5C91.25 581.23 91.65 577.99 92.16 574.78C92.67 571.57 93.3 568.38 94.03 565.23C94.77 562.07 95.62 558.95 96.55 555.84C97.48 552.74 98.52 549.67 99.62 546.61C100.73 543.56 101.93 540.53 103.19 537.53C104.45 534.53 105.79 531.55 107.18 528.59C108.57 525.63 110.02 522.69 111.52 519.78C113.02 516.86 114.58 513.97 116.18 511.11C117.79 508.25 119.45 505.41 121.15 502.6C122.86 499.8 124.62 497.02 126.42 494.28C128.22 491.53 130.07 488.82 131.96 486.14C133.85 483.47 135.78 480.83 137.75 478.23C139.73 475.62 141.74 473.06 143.8 470.54C145.86 468.02 147.96 465.53 150.1 463.1C152.25 460.67 154.44 458.28 156.68 455.95C158.92 453.61 161.2 451.33 163.54 449.1C165.88 446.87 168.27 444.7 170.71 442.59C173.16 440.47 175.65 438.42 178.21 436.43C180.77 434.44 183.38 432.52 186.05 430.66C188.72 428.81 191.46 427.02 194.24 425.3C197.03 423.58 199.87 421.93 202.76 420.36C205.64 418.79 208.58 417.28 211.55 415.86C214.52 414.43 217.54 413.07 220.58 411.8C223.63 410.52 226.71 409.32 229.82 408.2C232.92 407.08 236.06 406.03 239.21 405.07C242.37 404.1 245.54 403.22 248.73 402.42C251.92 401.62 255.12 400.9 258.33 400.26C261.54 399.63 264.75 399.08 267.97 398.61C271.19 398.15 274.42 397.77 277.64 397.47C280.86 397.17 284.09 396.96 287.32 396.84C290.54 396.71 293.77 396.67 296.99 396.72C300.22 396.77 303.44 396.9 306.65 397.12C309.87 397.33 313.08 397.64 316.29 398.03C319.49 398.42 322.69 398.9 325.88 399.46C329.07 400.03 332.25 400.68 335.41 401.42C338.58 402.16 341.74 402.99 344.89 403.89C348.03 404.8 351.16 405.8 354.28 406.86C357.39 407.93 360.49 409.07 363.57 410.27C366.65 411.47 369.71 412.74 372.75 414.05C375.79 415.37 378.82 416.74 381.81 418.16C384.8 419.58 387.78 421.04 390.7 422.56C393.63 424.09 396.53 425.66 399.37 427.3C402.21 428.95 405.01 430.65 407.73 432.44C410.46 434.23 413.13 436.08 415.71 438.03C418.3 439.97 420.81 442 423.24 444.12C425.66 446.23 428.01 448.44 430.27 450.72C432.53 453.01 434.7 455.38 436.8 457.82C438.89 460.26 440.9 462.78 442.83 465.36C444.76 467.94 446.61 470.6 448.37 473.32C450.13 476.03 451.81 478.82 453.41 481.65C455.01 484.49 456.52 487.39 457.97 490.32C459.42 493.26 460.78 496.25 462.09 499.27C463.4 502.28 464.63 505.34 465.82 508.42C467 511.49 468.12 514.6 469.2 517.72C470.27 520.83 471.29 523.96 472.26 527.1C473.23 530.24 474.16 533.39 475.02 536.55C475.88 539.71 476.7 542.89 477.44 546.07C478.19 549.25 478.89 552.44 479.51 555.63C480.14 558.83 480.7 562.04 481.2 565.26C481.69 568.47 482.13 571.7 482.48 574.93C482.84 578.16 483.13 581.4 483.34 584.64C483.55 587.89 483.68 592.77 483.75 594.4" fill="none" stroke="#20e020" stroke-width="2" stroke-linejoin="round" stroke-linecap="round"/>
<path d="M90.6 594.4C90.73 592.97 91.03 588.67 91.39 585.84C91.75 583.02 92.21 580.21 92.75 577.43C93.28 574.66 93.92 571.9 94.63 569.17C95.34 566.45 96.14 563.74 97.01 561.07C97.89 558.39 98.84 555.74 99.86 553.11C100.89 550.49 101.99 547.89 103.15 545.32C104.31 542.75 105.55 540.2 106.84 537.69C108.13 535.17 109.49 532.68 110.91 530.22C112.32 527.76 113.79 525.32 115.31 522.92C116.83 520.51 118.4 518.13 120.02 515.78C121.64 513.43 123.31 511.11 125.01 508.82C126.71 506.53 128.46 504.26 130.25 502.03C132.03 499.8 133.85 497.6 135.69 495.42C137.54 493.25 139.42 491.1 141.32 488.99C143.23 486.88 145.16 484.8 147.12 482.76C149.09 480.72 151.08 478.71 153.11 476.75C155.14 474.79 157.2 472.86 159.3 470.99C161.4 469.12 163.54 467.3 165.72 465.53C167.91 463.77 170.13 462.05 172.39 460.39C174.66 458.74 176.97 457.14 179.33 455.61C181.69 454.08 184.1 452.62 186.55 451.21C189 449.81 191.5 448.47 194.03 447.2C196.56 445.92 199.14 444.7 201.74 443.55C204.33 442.39 206.97 441.29 209.63 440.25C212.28 439.21 214.97 438.23 217.67 437.3C220.37 436.37 223.1 435.49 225.84 434.67C228.57 433.85 231.33 433.08 234.09 432.37C236.85 431.66 239.62 431 242.41 430.4C245.19 429.81 247.98 429.27 250.78 428.8C253.58 428.33 256.38 427.91 259.19 427.57C262 427.23 264.81 426.95 267.63 426.75C270.44 426.54 273.25 426.41 276.07 426.35C278.88 426.29 281.69 426.3 284.5 426.39C287.31 426.48 290.12 426.65 292.91 426.9C295.71 427.15 298.51 427.48 301.29 427.89C304.07 428.3 306.85 428.8 309.61 429.38C312.37 429.96 315.12 430.62 317.85 431.35C320.59 432.09 323.31 432.9 326.01 433.79C328.7 434.67 331.39 435.63 334.04 436.66C336.7 437.69 339.34 438.79 341.95 439.95C344.55 441.12 347.14 442.35 349.69 443.65C352.24 444.94 354.77 446.3 357.26 447.72C359.75 449.14 362.21 450.62 364.64 452.16C367.06 453.69 369.45 455.29 371.79 456.94C374.14 458.58 376.45 460.28 378.72 462.03C380.98 463.78 383.21 465.58 385.38 467.43C387.56 469.28 389.69 471.18 391.77 473.12C393.85 475.06 395.89 477.05 397.87 479.08C399.85 481.11 401.78 483.19 403.66 485.31C405.53 487.42 407.35 489.59 409.12 491.79C410.88 493.99 412.59 496.23 414.23 498.51C415.88 500.8 417.46 503.12 418.99 505.48C420.51 507.83 421.97 510.23 423.36 512.66C424.75 515.09 426.08 517.55 427.34 520.05C428.6 522.55 429.79 525.09 430.91 527.65C432.03 530.21 433.07 532.81 434.05 535.44C435.02 538.06 435.92 540.72 436.73 543.41C437.55 546.09 438.3 548.8 438.96 551.54C439.62 554.28 440.2 557.05 440.7 559.84C441.2 562.63 441.61 565.45 441.94 568.28C442.27 571.12 442.51 573.98 442.67 576.87C442.82 579.75 442.89 582.65 442.86 585.58C442.83 588.5 442.56 592.93 442.5 594.4" fill="none" stroke="#20e020" stroke-width="2" stroke-linejoin="round" stroke-linecap="round"/>
<rect x="72.5" y="319" width="551.5" height="275" fill="none" stroke="#0a0a0a" stroke-width="2.5"/>
<line x1="92" y1="594.4" x2="338" y2="594.4" stroke="#7c7c7c" stroke-width="2.7"/>
<line x1="90" y1="319" x2="90" y2="329" stroke="#0a0a0a" stroke-width="2.3"/>
<line x1="268.75" y1="319" x2="268.75" y2="329" stroke="#0a0a0a" stroke-width="2.3"/>
<line x1="445" y1="319" x2="445" y2="329" stroke="#0a0a0a" stroke-width="2.3"/>
<line x1="178" y1="319" x2="178" y2="324.5" stroke="#0a0a0a" stroke-width="2.3"/>
<line x1="356" y1="319" x2="356" y2="324.5" stroke="#0a0a0a" stroke-width="2.3"/>
<line x1="533.75" y1="319" x2="533.75" y2="324.5" stroke="#0a0a0a" stroke-width="2.3"/>
<line x1="72.5" y1="358" x2="83.5" y2="358" stroke="#0a0a0a" stroke-width="2.3"/>
<line x1="72.5" y1="436.75" x2="83.5" y2="436.75" stroke="#0a0a0a" stroke-width="2.3"/>
<line x1="72.5" y1="515" x2="83.5" y2="515" stroke="#0a0a0a" stroke-width="2.3"/>
<line x1="72.5" y1="397" x2="78.5" y2="397" stroke="#0a0a0a" stroke-width="2.3"/>
<line x1="72.5" y1="475.75" x2="78.5" y2="475.75" stroke="#0a0a0a" stroke-width="2.3"/>
<line x1="72.5" y1="554.5" x2="78.5" y2="554.5" stroke="#0a0a0a" stroke-width="2.3"/>
<line x1="624" y1="358" x2="613" y2="358" stroke="#0a0a0a" stroke-width="2.3"/>
<line x1="624" y1="436.75" x2="613" y2="436.75" stroke="#0a0a0a" stroke-width="2.3"/>
<line x1="624" y1="515" x2="613" y2="515" stroke="#0a0a0a" stroke-width="2.3"/>
<line x1="624" y1="397" x2="618" y2="397" stroke="#0a0a0a" stroke-width="2.3"/>
<line x1="624" y1="475.75" x2="618" y2="475.75" stroke="#0a0a0a" stroke-width="2.3"/>
<line x1="624" y1="554.5" x2="618" y2="554.5" stroke="#0a0a0a" stroke-width="2.3"/>
<text x="90" y="612.6" font-size="14.8" font-family='"Liberation Sans", Arial, sans-serif' text-anchor="middle" fill="#333" stroke="#333" stroke-width="0.55">1</text>
<text x="268.75" y="612.6" font-size="14.8" font-family='"Liberation Sans", Arial, sans-serif' text-anchor="middle" fill="#333" stroke="#333" stroke-width="0.55">1.1</text>
<text x="445" y="612.6" font-size="14.8" font-family='"Liberation Sans", Arial, sans-serif' text-anchor="middle" fill="#333" stroke="#333" stroke-width="0.55">1.2</text>
<text x="624" y="612.6" font-size="14.8" font-family='"Liberation Sans", Arial, sans-serif' text-anchor="middle" fill="#333" stroke="#333" stroke-width="0.55">1.3</text>
<text x="67.5" y="362.6" font-size="14.8" font-family='"Liberation Sans", Arial, sans-serif' text-anchor="end" fill="#333" stroke="#333" stroke-width="0.55">0.12</text>
<text x="67.5" y="441.35" font-size="14.8" font-family='"Liberation Sans", Arial, sans-serif' text-anchor="end" fill="#333" stroke="#333" stroke-width="0.55">0.08</text>
<text x="67.5" y="519.6" font-size="14.8" font-family='"Liberation Sans", Arial, sans-serif' text-anchor="end" fill="#333" stroke="#333" stroke-width="0.55">0.04</text>
<text x="67.5" y="598.6" font-size="14.8" font-family='"Liberation Sans", Arial, sans-serif' text-anchor="end" fill="#333" stroke="#333" stroke-width="0.55">0</text>
<text transform="translate(26.5 455.6) rotate(-90)" font-size="24" font-family='"Liberation Serif", "Times New Roman", serif' text-anchor="middle" fill="#262626" textLength="108" lengthAdjust="spacingAndGlyphs" stroke="#262626" stroke-width="0.4">-Im{Z} (Ω)</text>
<text x="97.5" y="368.75" font-size="34" font-family='"Liberation Serif", "Times New Roman", serif' text-anchor="start" fill="#1c1c1c" stroke="#1c1c1c" stroke-width="0.3">(c)</text>
<path d="M97.5 910C97.6 907.96 97.81 901.84 98.08 897.75C98.36 893.65 98.71 889.54 99.16 885.43C99.6 881.33 100.13 877.22 100.74 873.12C101.36 869.03 102.07 864.94 102.87 860.87C103.68 856.8 104.57 852.75 105.57 848.73C106.56 844.71 107.65 840.71 108.85 836.76C110.05 832.81 111.35 828.89 112.76 825.02C114.16 821.16 115.68 817.33 117.3 813.57C118.93 809.81 120.67 806.1 122.52 802.45C124.36 798.81 126.32 795.22 128.38 791.7C130.43 788.17 132.6 784.71 134.85 781.3C137.1 777.9 139.45 774.55 141.88 771.26C144.32 767.98 146.84 764.75 149.44 761.58C152.04 758.41 154.73 755.3 157.49 752.24C160.24 749.19 163.08 746.2 165.97 743.26C168.86 740.32 171.83 737.44 174.85 734.62C177.87 731.8 180.96 729.04 184.09 726.33C187.23 723.62 190.42 720.97 193.65 718.38C196.88 715.79 200.17 713.26 203.5 710.8C206.82 708.33 210.2 705.93 213.62 703.61C217.04 701.28 220.51 699.03 224.02 696.86C227.53 694.69 231.08 692.59 234.68 690.58C238.27 688.58 241.91 686.65 245.59 684.82C249.27 682.99 252.99 681.25 256.75 679.62C260.5 677.98 264.3 676.44 268.14 675C271.97 673.57 275.85 672.24 279.76 671.02C283.67 669.81 287.61 668.7 291.59 667.71C295.57 666.73 299.59 665.86 303.63 665.1C307.67 664.35 311.74 663.71 315.83 663.19C319.91 662.66 324.02 662.25 328.13 661.95C332.25 661.65 336.38 661.47 340.5 661.39C344.63 661.32 348.77 661.35 352.89 661.5C357.02 661.64 361.15 661.89 365.26 662.25C369.37 662.61 373.47 663.08 377.55 663.65C381.63 664.22 385.69 664.9 389.73 665.68C393.77 666.46 397.79 667.34 401.79 668.32C405.78 669.3 409.75 670.38 413.69 671.56C417.63 672.73 421.54 674.01 425.42 675.38C429.29 676.74 433.14 678.21 436.95 679.76C440.76 681.31 444.53 682.96 448.26 684.69C451.99 686.43 455.68 688.25 459.33 690.16C462.97 692.07 466.58 694.07 470.13 696.14C473.69 698.22 477.2 700.39 480.65 702.63C484.1 704.87 487.51 707.2 490.85 709.6C494.2 712 497.49 714.49 500.72 717.04C503.96 719.6 507.13 722.23 510.24 724.93C513.35 727.64 516.4 730.42 519.38 733.27C522.35 736.11 525.27 739.03 528.11 742.02C530.95 745 533.72 748.06 536.42 751.18C539.11 754.29 541.74 757.48 544.28 760.72C546.82 763.97 549.29 767.28 551.67 770.64C554.04 774.01 556.34 777.43 558.54 780.91C560.73 784.39 562.85 787.92 564.85 791.51C566.86 795.09 568.78 798.73 570.58 802.42C572.39 806.1 574.1 809.84 575.69 813.62C577.28 817.39 578.76 821.22 580.13 825.08C581.49 828.95 582.74 832.86 583.89 836.79C585.04 840.73 586.08 844.71 587.03 848.71C587.98 852.71 588.82 856.74 589.59 860.79C590.35 864.84 591.02 868.92 591.61 873C592.21 877.08 592.71 881.19 593.16 885.3C593.6 889.4 593.96 893.53 594.27 897.64C594.58 901.76 594.88 907.94 595 910L595 910C594.67 908.5 593.83 903.92 593 901C592.17 898.08 591.33 895.58 590 892.5C588.67 889.42 587.08 886.04 585 882.5C582.92 878.96 580 874.48 577.5 871.25C575 868.02 572.92 865.81 570 863.1C567.08 860.39 563.33 857.5 560 855C556.67 852.5 553.33 850.18 550 848.1C546.67 846.02 543.33 844.48 540 842.5C536.67 840.52 533.33 838.08 530 836.25C526.67 834.42 523.33 832.96 520 831.5C516.67 830.04 514.17 829.25 510 827.5C505.83 825.75 499.58 823.29 495 821C490.42 818.71 486.67 816.5 482.5 813.75C478.33 811 473.75 807.62 470 804.5C466.25 801.38 463.33 798.25 460 795C456.67 791.75 453.33 787.75 450 785C446.67 782.25 442.71 779.96 440 778.5C437.29 777.04 435.83 776.87 433.75 776.25C431.67 775.63 429.58 775.01 427.5 774.8C425.42 774.59 424.17 774.55 421.25 775C418.33 775.45 413.12 776.67 410 777.5C406.88 778.33 405.83 778.96 402.5 780C399.17 781.04 393.33 782.71 390 783.75C386.67 784.79 385.83 785.04 382.5 786.25C379.17 787.46 373.75 789.58 370 791C366.25 792.42 363.33 793.62 360 794.8C356.67 795.98 353.33 797.02 350 798.1C346.67 799.18 343.33 800.52 340 801.25C336.67 801.98 332.5 802.34 330 802.5C327.5 802.66 326.67 802.53 325 802.2C323.33 801.87 320.83 800.78 320 800.5L320 800.5C319.15 801 316.62 802.45 314.91 803.51C313.19 804.57 311.46 805.75 309.71 806.87C307.95 808 306.18 809.18 304.39 810.25C302.59 811.32 300.78 812.4 298.94 813.31C297.1 814.22 295.23 815.07 293.34 815.72C291.44 816.36 289.52 816.84 287.58 817.16C285.64 817.48 283.67 817.61 281.71 817.62C279.74 817.63 277.76 817.48 275.79 817.22C273.83 816.97 271.86 816.56 269.91 816.09C267.96 815.62 266.03 815.01 264.1 814.37C262.18 813.74 260.27 813 258.35 812.27C256.44 811.53 254.54 810.73 252.62 809.97C250.71 809.21 248.8 808.42 246.87 807.7C244.94 806.98 243.01 806.27 241.06 805.66C239.1 805.04 237.13 804.49 235.15 804.03C233.16 803.56 231.16 803.17 229.15 802.86C227.15 802.54 225.12 802.31 223.1 802.14C221.08 801.97 219.05 801.88 217.02 801.86C214.99 801.84 212.96 801.89 210.94 802.01C208.92 802.13 206.9 802.32 204.89 802.57C202.88 802.83 200.88 803.15 198.9 803.54C196.91 803.93 194.94 804.38 192.98 804.89C191.02 805.4 189.07 805.97 187.14 806.59C185.2 807.21 183.28 807.88 181.37 808.59C179.46 809.29 177.57 810.05 175.68 810.83C173.8 811.61 171.93 812.43 170.07 813.27C168.22 814.11 166.37 814.98 164.55 815.88C162.73 816.78 160.92 817.7 159.15 818.67C157.37 819.65 155.62 820.65 153.9 821.71C152.19 822.77 150.5 823.87 148.85 825.03C147.2 826.19 145.59 827.4 144 828.65C142.41 829.9 140.86 831.19 139.32 832.51C137.78 833.83 136.26 835.18 134.75 836.55C133.24 837.92 131.74 839.31 130.25 840.71C128.76 842.11 127.26 843.51 125.79 844.94C124.32 846.36 122.85 847.8 121.43 849.26C120.02 850.73 118.62 852.22 117.28 853.75C115.95 855.27 114.65 856.83 113.44 858.44C112.22 860.04 111.06 861.69 110 863.39C108.93 865.09 107.95 866.85 107.04 868.65C106.14 870.45 105.31 872.3 104.56 874.18C103.8 876.06 103.13 877.98 102.51 879.92C101.89 881.86 101.35 883.84 100.86 885.83C100.37 887.81 99.95 889.83 99.57 891.84C99.2 893.85 98.88 895.89 98.61 897.91C98.33 899.93 98.11 901.96 97.93 903.98C97.74 906 97.57 909 97.5 910Z" fill="#000000" stroke="none"/>
<path d="M97.5 910C97.6 907.96 97.81 901.84 98.08 897.75C98.36 893.65 98.71 889.54 99.16 885.43C99.6 881.33 100.13 877.22 100.74 873.12C101.36 869.03 102.07 864.94 102.87 860.87C103.68 856.8 104.57 852.75 105.57 848.73C106.56 844.71 107.65 840.71 108.85 836.76C110.05 832.81 111.35 828.89 112.76 825.02C114.16 821.16 115.68 817.33 117.3 813.57C118.93 809.81 120.67 806.1 122.52 802.45C124.36 798.81 126.32 795.22 128.38 791.7C130.43 788.17 132.6 784.71 134.85 781.3C137.1 777.9 139.45 774.55 141.88 771.26C144.32 767.98 146.84 764.75 149.44 761.58C152.04 758.41 154.73 755.3 157.49 752.24C160.24 749.19 163.08 746.2 165.97 743.26C168.86 740.32 171.83 737.44 174.85 734.62C177.87 731.8 180.96 729.04 184.09 726.33C187.23 723.62 190.42 720.97 193.65 718.38C196.88 715.79 200.17 713.26 203.5 710.8C206.82 708.33 210.2 705.93 213.62 703.61C217.04 701.28 220.51 699.03 224.02 696.86C227.53 694.69 231.08 692.59 234.68 690.58C238.27 688.58 241.91 686.65 245.59 684.82C249.27 682.99 252.99 681.25 256.75 679.62C260.5 677.98 264.3 676.44 268.14 675C271.97 673.57 275.85 672.24 279.76 671.02C283.67 669.81 287.61 668.7 291.59 667.71C295.57 666.73 299.59 665.86 303.63 665.1C307.67 664.35 311.74 663.71 315.83 663.19C319.91 662.66 324.02 662.25 328.13 661.95C332.25 661.65 336.38 661.47 340.5 661.39C344.63 661.32 348.77 661.35 352.89 661.5C357.02 661.64 361.15 661.89 365.26 662.25C369.37 662.61 373.47 663.08 377.55 663.65C381.63 664.22 385.69 664.9 389.73 665.68C393.77 666.46 397.79 667.34 401.79 668.32C405.78 669.3 409.75 670.38 413.69 671.56C417.63 672.73 421.54 674.01 425.42 675.38C429.29 676.74 433.14 678.21 436.95 679.76C440.76 681.31 444.53 682.96 448.26 684.69C451.99 686.43 455.68 688.25 459.33 690.16C462.97 692.07 466.58 694.07 470.13 696.14C473.69 698.22 477.2 700.39 480.65 702.63C484.1 704.87 487.51 707.2 490.85 709.6C494.2 712 497.49 714.49 500.72 717.04C503.96 719.6 507.13 722.23 510.24 724.93C513.35 727.64 516.4 730.42 519.38 733.27C522.35 736.11 525.27 739.03 528.11 742.02C530.95 745 533.72 748.06 536.42 751.18C539.11 754.29 541.74 757.48 544.28 760.72C546.82 763.97 549.29 767.28 551.67 770.64C554.04 774.01 556.34 777.43 558.54 780.91C560.73 784.39 562.85 787.92 564.85 791.51C566.86 795.09 568.78 798.73 570.58 802.42C572.39 806.1 574.1 809.84 575.69 813.62C577.28 817.39 578.76 821.22 580.13 825.08C581.49 828.95 582.74 832.86 583.89 836.79C585.04 840.73 586.08 844.71 587.03 848.71C587.98 852.71 588.82 856.74 589.59 860.79C590.35 864.84 591.02 868.92 591.61 873C592.21 877.08 592.71 881.19 593.16 885.3C593.6 889.4 593.96 893.53 594.27 897.64C594.58 901.76 594.88 907.94 595 910" fill="none" stroke="#f01818" stroke-width="2" stroke-linejoin="round" stroke-linecap="round"/>
<path d="M97.5 910C97.57 909 97.74 906 97.93 903.98C98.11 901.96 98.33 899.93 98.61 897.91C98.88 895.89 99.2 893.85 99.57 891.84C99.95 889.83 100.37 887.81 100.86 885.83C101.35 883.84 101.89 881.86 102.51 879.92C103.13 877.98 103.8 876.06 104.56 874.18C105.31 872.3 106.14 870.45 107.04 868.65C107.95 866.85 108.93 865.09 110 863.39C111.06 861.69 112.22 860.04 113.44 858.44C114.65 856.83 115.95 855.27 117.28 853.75C118.62 852.22 120.02 850.73 121.43 849.26C122.85 847.8 124.32 846.36 125.79 844.94C127.26 843.51 128.76 842.11 130.25 840.71C131.74 839.31 133.24 837.92 134.75 836.55C136.26 835.18 137.78 833.83 139.32 832.51C140.86 831.19 142.41 829.9 144 828.65C145.59 827.4 147.2 826.19 148.85 825.03C150.5 823.87 152.19 822.77 153.9 821.71C155.62 820.65 157.37 819.65 159.15 818.67C160.92 817.7 162.73 816.78 164.55 815.88C166.37 814.98 168.22 814.11 170.07 813.27C171.93 812.43 173.8 811.61 175.68 810.83C177.57 810.05 179.46 809.29 181.37 808.59C183.28 807.88 185.2 807.21 187.14 806.59C189.07 805.97 191.02 805.4 192.98 804.89C194.94 804.38 196.91 803.93 198.9 803.54C200.88 803.15 202.88 802.83 204.89 802.57C206.9 802.32 208.92 802.13 210.94 802.01C212.96 801.89 214.99 801.84 217.02 801.86C219.05 801.88 221.08 801.97 223.1 802.14C225.12 802.31 227.15 802.54 229.15 802.86C231.16 803.17 233.16 803.56 235.15 804.03C237.13 804.49 239.1 805.04 241.06 805.66C243.01 806.27 244.94 806.98 246.87 807.7C248.8 808.42 250.71 809.21 252.62 809.97C254.54 810.73 256.44 811.53 258.35 812.27C260.27 813 262.18 813.74 264.1 814.37C266.03 815.01 267.96 815.62 269.91 816.09C271.86 816.56 273.83 816.97 275.79 817.22C277.76 817.48 279.74 817.63 281.71 817.62C283.67 817.61 285.64 817.48 287.58 817.16C289.52 816.84 291.44 816.36 293.34 815.72C295.23 815.07 297.1 814.22 298.94 813.31C300.78 812.4 302.59 811.32 304.39 810.25C306.18 809.18 307.95 808 309.71 806.87C311.46 805.75 313.19 804.57 314.91 803.51C316.62 802.45 319.15 801 320 800.5" fill="none" stroke="#20e020" stroke-width="2.8" stroke-linejoin="round" stroke-linecap="round"/>
<path d="M97.5 910C97.61 908.41 97.87 903.66 98.16 900.49C98.44 897.32 98.8 894.14 99.23 890.97C99.65 887.8 100.15 884.63 100.71 881.47C101.27 878.32 101.9 875.16 102.6 872.03C103.3 868.89 104.07 865.76 104.9 862.65C105.74 859.55 106.64 856.45 107.61 853.39C108.59 850.32 109.63 847.27 110.73 844.25C111.84 841.23 113.01 838.23 114.25 835.27C115.49 832.31 116.8 829.37 118.18 826.47C119.55 823.58 121 820.71 122.51 817.89C124.02 815.07 125.59 812.29 127.23 809.55C128.88 806.81 130.58 804.12 132.36 801.47C134.13 798.83 135.98 796.23 137.88 793.69C139.79 791.15 141.76 788.66 143.8 786.24C145.84 783.81 147.94 781.43 150.11 779.13C152.28 776.82 154.52 774.57 156.82 772.39C159.12 770.22 161.49 768.11 163.92 766.06C166.34 764.02 168.84 762.05 171.38 760.15C173.93 758.24 176.54 756.4 179.19 754.63C181.84 752.85 184.55 751.15 187.3 749.5C190.05 747.86 192.86 746.28 195.69 744.76C198.53 743.24 201.41 741.78 204.33 740.39C207.24 738.99 210.19 737.66 213.17 736.38C216.15 735.11 219.16 733.89 222.19 732.73C225.22 731.57 228.28 730.47 231.36 729.43C234.43 728.38 237.53 727.4 240.64 726.46C243.74 725.53 246.87 724.65 250 723.82C253.13 723 256.27 722.22 259.41 721.51C262.55 720.79 265.71 720.13 268.86 719.54C272.01 718.95 275.17 718.42 278.33 717.96C281.49 717.5 284.65 717.11 287.81 716.79C290.96 716.48 294.12 716.24 297.28 716.08C300.43 715.92 303.58 715.84 306.73 715.85C309.87 715.86 313.01 715.95 316.14 716.14C319.28 716.33 322.4 716.6 325.51 716.98C328.63 717.35 331.73 717.82 334.82 718.4C337.92 718.98 341 719.65 344.06 720.44C347.12 721.23 350.18 722.13 353.21 723.13C356.24 724.13 359.26 725.25 362.25 726.45C365.25 727.65 368.23 728.95 371.18 730.32C374.13 731.68 377.07 733.14 379.97 734.64C382.88 736.14 385.76 737.72 388.61 739.33C391.46 740.94 394.29 742.62 397.08 744.31C399.87 745.99 402.63 747.73 405.36 749.47C408.09 751.2 410.79 752.96 413.44 754.73C416.1 756.5 418.72 758.27 421.3 760.1C423.88 761.92 426.43 763.76 428.92 765.67C431.41 767.59 433.86 769.54 436.27 771.58C438.67 773.62 441.01 775.75 443.33 777.93C445.65 780.11 447.9 782.38 450.18 784.64C452.45 786.9 454.69 789.22 456.97 791.48C459.25 793.75 461.51 796.04 463.85 798.23C466.18 800.42 468.54 802.59 470.98 804.64C473.42 806.69 475.91 808.66 478.47 810.52C481.03 812.39 483.66 814.16 486.35 815.82C489.04 817.49 491.8 819.06 494.62 820.52C497.43 821.99 500.32 823.32 503.24 824.62C506.16 825.91 509.15 827.1 512.14 828.28C515.13 829.46 518.16 830.57 521.17 831.71C524.19 832.85 527.23 833.95 530.23 835.12C533.23 836.28 536.24 837.45 539.18 838.71C542.13 839.98 545.06 841.27 547.91 842.7C550.76 844.13 553.57 845.63 556.29 847.3C559 848.96 561.66 850.75 564.2 852.69C566.73 854.64 569.19 856.74 571.5 858.95C573.82 861.17 576.03 863.53 578.07 865.99C580.11 868.46 582.03 871.05 583.76 873.73C585.49 876.41 587.07 879.21 588.44 882.09C589.8 884.96 591 887.94 591.96 890.97C592.92 894.01 593.69 897.13 594.19 900.3C594.7 903.48 594.87 908.38 595 910" fill="none" stroke="#20e020" stroke-width="2" stroke-linejoin="round" stroke-linecap="round"/>
<path d="M320 800.5C321.04 799.71 324.13 797.28 326.25 795.74C328.36 794.2 330.51 792.7 332.69 791.26C334.87 789.81 337.07 788.41 339.31 787.06C341.54 785.71 343.8 784.4 346.09 783.15C348.38 781.9 350.69 780.69 353.02 779.53C355.36 778.38 357.72 777.27 360.1 776.21C362.48 775.16 364.88 774.15 367.3 773.19C369.72 772.23 372.17 771.33 374.62 770.47C377.08 769.62 379.56 768.81 382.04 768.06C384.53 767.31 387.04 766.61 389.56 765.96C392.08 765.31 394.61 764.72 397.15 764.18C399.69 763.63 402.25 763.14 404.81 762.71C407.37 762.27 409.94 761.89 412.52 761.56C415.1 761.23 417.68 760.96 420.27 760.74C422.86 760.52 425.46 760.36 428.05 760.25C430.65 760.14 433.25 760.09 435.85 760.1C438.45 760.1 441.05 760.16 443.65 760.28C446.25 760.39 448.85 760.57 451.45 760.8C454.04 761.03 456.63 761.32 459.22 761.66C461.81 762.01 464.39 762.41 466.96 762.88C469.53 763.34 472.1 763.86 474.65 764.44C477.21 765.02 479.76 765.66 482.28 766.36C484.81 767.06 487.33 767.81 489.83 768.62C492.32 769.44 494.8 770.31 497.25 771.23C499.71 772.16 502.14 773.14 504.55 774.18C506.95 775.21 509.33 776.31 511.68 777.46C514.02 778.61 516.34 779.81 518.62 781.07C520.9 782.33 523.15 783.64 525.36 785.02C527.56 786.39 529.74 787.81 531.86 789.3C533.98 790.78 536.06 792.32 538.09 793.92C540.12 795.52 542.11 797.17 544.04 798.89C545.97 800.6 547.85 802.37 549.68 804.2C551.5 806.02 553.26 807.91 554.97 809.85C556.68 811.78 558.34 813.78 559.93 815.82C561.53 817.86 563.07 819.95 564.56 822.08C566.05 824.21 567.48 826.39 568.85 828.61C570.23 830.83 571.55 833.09 572.82 835.38C574.09 837.67 575.3 839.99 576.46 842.35C577.62 844.71 578.72 847.1 579.77 849.51C580.82 851.92 581.82 854.36 582.77 856.82C583.71 859.28 584.61 861.76 585.45 864.26C586.29 866.75 587.07 869.27 587.81 871.79C588.54 874.32 589.23 876.86 589.86 879.4C590.49 881.94 591.07 884.5 591.6 887.05C592.13 889.61 592.61 892.17 593.04 894.72C593.46 897.28 593.84 899.83 594.17 902.38C594.5 904.93 594.86 908.73 595 910" fill="none" stroke="#20e020" stroke-width="2" stroke-linejoin="round" stroke-linecap="round"/>
<rect x="67" y="629.5" width="562" height="280.5" fill="none" stroke="#0a0a0a" stroke-width="2.5"/>
<line x1="98" y1="629.5" x2="98" y2="640" stroke="#0a0a0a" stroke-width="2.3"/>
<line x1="223" y1="629.5" x2="223" y2="640" stroke="#0a0a0a" stroke-width="2.3"/>
<line x1="347.5" y1="629.5" x2="347.5" y2="640" stroke="#0a0a0a" stroke-width="2.3"/>
<line x1="472.5" y1="629.5" x2="472.5" y2="640" stroke="#0a0a0a" stroke-width="2.3"/>
<line x1="597.2" y1="629.5" x2="597.2" y2="640" stroke="#0a0a0a" stroke-width="2.3"/>
<line x1="160.5" y1="629.5" x2="160.5" y2="635" stroke="#0a0a0a" stroke-width="2.3"/>
<line x1="285" y1="629.5" x2="285" y2="635" stroke="#0a0a0a" stroke-width="2.3"/>
<line x1="410" y1="629.5" x2="410" y2="635" stroke="#0a0a0a" stroke-width="2.3"/>
<line x1="535" y1="629.5" x2="535" y2="635" stroke="#0a0a0a" stroke-width="2.3"/>
<line x1="67" y1="660" x2="79" y2="660" stroke="#0a0a0a" stroke-width="2.3"/>
<line x1="67" y1="722.5" x2="79" y2="722.5" stroke="#0a0a0a" stroke-width="2.3"/>
<line x1="67" y1="785" x2="79" y2="785" stroke="#0a0a0a" stroke-width="2.3"/>
<line x1="67" y1="847.5" x2="79" y2="847.5" stroke="#0a0a0a" stroke-width="2.3"/>
<line x1="67" y1="691.25" x2="74" y2="691.25" stroke="#0a0a0a" stroke-width="2.3"/>
<line x1="67" y1="753.75" x2="74" y2="753.75" stroke="#0a0a0a" stroke-width="2.3"/>
<line x1="67" y1="816.25" x2="74" y2="816.25" stroke="#0a0a0a" stroke-width="2.3"/>
<line x1="67" y1="878.75" x2="74" y2="878.75" stroke="#0a0a0a" stroke-width="2.3"/>
<line x1="629" y1="660" x2="617" y2="660" stroke="#0a0a0a" stroke-width="2.3"/>
<line x1="629" y1="722.5" x2="617" y2="722.5" stroke="#0a0a0a" stroke-width="2.3"/>
<line x1="629" y1="785" x2="617" y2="785" stroke="#0a0a0a" stroke-width="2.3"/>
<line x1="629" y1="847.5" x2="617" y2="847.5" stroke="#0a0a0a" stroke-width="2.3"/>
<line x1="629" y1="691.25" x2="622" y2="691.25" stroke="#0a0a0a" stroke-width="2.3"/>
<line x1="629" y1="753.75" x2="622" y2="753.75" stroke="#0a0a0a" stroke-width="2.3"/>
<line x1="629" y1="816.25" x2="622" y2="816.25" stroke="#0a0a0a" stroke-width="2.3"/>
<line x1="629" y1="878.75" x2="622" y2="878.75" stroke="#0a0a0a" stroke-width="2.3"/>
<line x1="597" y1="910" x2="597" y2="900" stroke="#0a0a0a" stroke-width="2.4"/>
<line x1="540" y1="910" x2="593" y2="910" stroke="#dedede" stroke-width="2.8"/>
<text x="98" y="929.3" font-size="14.8" font-family='"Liberation Sans", Arial, sans-serif' text-anchor="middle" fill="#333" stroke="#333" stroke-width="0.55">1</text>
<text x="223" y="929.3" font-size="14.8" font-family='"Liberation Sans", Arial, sans-serif' text-anchor="middle" fill="#333" stroke="#333" stroke-width="0.55">1.04</text>
<text x="347.5" y="929.3" font-size="14.8" font-family='"Liberation Sans", Arial, sans-serif' text-anchor="middle" fill="#333" stroke="#333" stroke-width="0.55">1.08</text>
<text x="472.5" y="929.3" font-size="14.8" font-family='"Liberation Sans", Arial, sans-serif' text-anchor="middle" fill="#333" stroke="#333" stroke-width="0.55">1.12</text>
<text x="597.2" y="929.3" font-size="14.8" font-family='"Liberation Sans", Arial, sans-serif' text-anchor="middle" fill="#333" stroke="#333" stroke-width="0.55">1.16</text>
<text x="62" y="664.6" font-size="14.8" font-family='"Liberation Sans", Arial, sans-serif' text-anchor="end" fill="#333" stroke="#333" stroke-width="0.55">0.08</text>
<text x="62" y="727.1" font-size="14.8" font-family='"Liberation Sans", Arial, sans-serif' text-anchor="end" fill="#333" stroke="#333" stroke-width="0.55">0.06</text>
<text x="62" y="789.6" font-size="14.8" font-family='"Liberation Sans", Arial, sans-serif' text-anchor="end" fill="#333" stroke="#333" stroke-width="0.55">0.04</text>
<text x="62" y="852.1" font-size="14.8" font-family='"Liberation Sans", Arial, sans-serif' text-anchor="end" fill="#333" stroke="#333" stroke-width="0.55">0.02</text>
<text x="62" y="914.6" font-size="14.8" font-family='"Liberation Sans", Arial, sans-serif' text-anchor="end" fill="#333" stroke="#333" stroke-width="0.55">0</text>
<text transform="translate(20.5 767.5) rotate(-90)" font-size="24" font-family='"Liberation Serif", "Times New Roman", serif' text-anchor="middle" fill="#262626" textLength="109" lengthAdjust="spacingAndGlyphs" stroke="#262626" stroke-width="0.4">-Im{Z} (Ω)</text>
<text x="90" y="681" font-size="34" font-family='"Liberation Serif", "Times New Roman", serif' text-anchor="start" fill="#1c1c1c" stroke="#1c1c1c" stroke-width="0.3">(e)</text>
<text x="448.5" y="672.5" font-size="21" font-family='"Liberation Serif", "Times New Roman", serif' text-anchor="start" fill="#262626" textLength="152.5" lengthAdjust="spacingAndGlyphs" stroke="#262626" stroke-width="0.4">Perfect semicircle</text>
<line x1="529.4" y1="682.5" x2="505.6" y2="711.25" stroke="#f01818" stroke-width="2.2"/>
<line x1="505.6" y1="711.25" x2="508.13" y2="700.03" stroke="#f01818" stroke-width="2.2"/>
<line x1="505.6" y1="711.25" x2="516.15" y2="706.67" stroke="#f01818" stroke-width="2.2"/>
<path d="M66 1228.75C66.05 1226.83 66.05 1221.08 66.28 1217.26C66.51 1213.44 66.88 1209.61 67.38 1205.81C67.88 1202.01 68.51 1198.22 69.27 1194.46C70.03 1190.7 70.92 1186.96 71.92 1183.25C72.93 1179.55 74.07 1175.86 75.32 1172.23C76.56 1168.59 77.94 1164.99 79.42 1161.44C80.9 1157.9 82.5 1154.39 84.2 1150.94C85.91 1147.5 87.72 1144.1 89.64 1140.77C91.56 1137.45 93.59 1134.18 95.71 1130.99C97.83 1127.79 100.06 1124.66 102.38 1121.62C104.7 1118.58 107.12 1115.61 109.62 1112.74C112.13 1109.86 114.73 1107.08 117.41 1104.37C120.09 1101.66 122.86 1099.05 125.69 1096.5C128.51 1093.95 131.42 1091.49 134.38 1089.07C137.33 1086.65 140.35 1084.3 143.4 1082C146.45 1079.69 149.56 1077.44 152.7 1075.23C155.83 1073.02 159 1070.85 162.2 1068.72C165.4 1066.59 168.63 1064.5 171.88 1062.45C175.14 1060.4 178.42 1058.39 181.73 1056.43C185.04 1054.47 188.38 1052.55 191.75 1050.69C195.11 1048.83 198.5 1047.02 201.92 1045.27C205.34 1043.51 208.79 1041.81 212.26 1040.17C215.73 1038.54 219.23 1036.95 222.76 1035.44C226.28 1033.93 229.83 1032.48 233.41 1031.1C236.98 1029.72 240.58 1028.41 244.21 1027.17C247.84 1025.94 251.49 1024.77 255.16 1023.69C258.84 1022.61 262.54 1021.6 266.26 1020.67C269.98 1019.75 273.73 1018.91 277.49 1018.14C281.25 1017.38 285.04 1016.7 288.83 1016.11C292.62 1015.52 296.43 1015 300.25 1014.58C304.06 1014.15 307.89 1013.81 311.72 1013.56C315.55 1013.31 319.39 1013.15 323.22 1013.07C327.06 1013 330.9 1013.01 334.73 1013.11C338.56 1013.22 342.4 1013.41 346.22 1013.7C350.04 1013.98 353.86 1014.36 357.66 1014.83C361.46 1015.3 365.25 1015.87 369.03 1016.53C372.8 1017.18 376.57 1017.93 380.31 1018.76C384.06 1019.59 387.79 1020.5 391.5 1021.49C395.22 1022.48 398.91 1023.56 402.59 1024.7C406.27 1025.84 409.92 1027.06 413.56 1028.34C417.2 1029.62 420.82 1030.96 424.41 1032.38C428 1033.79 431.57 1035.26 435.1 1036.82C438.62 1038.38 442.12 1040.01 445.56 1041.73C449 1043.45 452.41 1045.24 455.74 1047.14C459.07 1049.04 462.35 1051.04 465.56 1053.13C468.77 1055.22 471.91 1057.4 474.98 1059.68C478.06 1061.95 481.06 1064.33 484 1066.78C486.93 1069.23 489.8 1071.77 492.58 1074.38C495.37 1077 498.09 1079.7 500.73 1082.47C503.36 1085.24 505.93 1088.09 508.41 1091C510.89 1093.92 513.29 1096.91 515.61 1099.96C517.93 1103.01 520.17 1106.13 522.32 1109.3C524.47 1112.47 526.54 1115.71 528.52 1119C530.49 1122.28 532.39 1125.63 534.19 1129.02C535.99 1132.41 537.7 1135.85 539.31 1139.33C540.93 1142.82 542.45 1146.35 543.88 1149.91C545.3 1153.48 546.64 1157.09 547.87 1160.73C549.1 1164.36 550.23 1168.04 551.26 1171.74C552.29 1175.44 553.22 1179.17 554.05 1182.92C554.87 1186.68 555.59 1190.46 556.2 1194.25C556.82 1198.04 557.32 1201.86 557.72 1205.68C558.11 1209.51 558.4 1213.35 558.57 1217.19C558.74 1221.04 558.72 1226.82 558.75 1228.75Z" fill="#000000" stroke="none"/>
<path d="M66 1228.75C66.05 1226.83 66.05 1221.08 66.28 1217.26C66.51 1213.44 66.88 1209.61 67.38 1205.81C67.88 1202.01 68.51 1198.22 69.27 1194.46C70.03 1190.7 70.92 1186.96 71.92 1183.25C72.93 1179.55 74.07 1175.86 75.32 1172.23C76.56 1168.59 77.94 1164.99 79.42 1161.44C80.9 1157.9 82.5 1154.39 84.2 1150.94C85.91 1147.5 87.72 1144.1 89.64 1140.77C91.56 1137.45 93.59 1134.18 95.71 1130.99C97.83 1127.79 100.06 1124.66 102.38 1121.62C104.7 1118.58 107.12 1115.61 109.62 1112.74C112.13 1109.86 114.73 1107.08 117.41 1104.37C120.09 1101.66 122.86 1099.05 125.69 1096.5C128.51 1093.95 131.42 1091.49 134.38 1089.07C137.33 1086.65 140.35 1084.3 143.4 1082C146.45 1079.69 149.56 1077.44 152.7 1075.23C155.83 1073.02 159 1070.85 162.2 1068.72C165.4 1066.59 168.63 1064.5 171.88 1062.45C175.14 1060.4 178.42 1058.39 181.73 1056.43C185.04 1054.47 188.38 1052.55 191.75 1050.69C195.11 1048.83 198.5 1047.02 201.92 1045.27C205.34 1043.51 208.79 1041.81 212.26 1040.17C215.73 1038.54 219.23 1036.95 222.76 1035.44C226.28 1033.93 229.83 1032.48 233.41 1031.1C236.98 1029.72 240.58 1028.41 244.21 1027.17C247.84 1025.94 251.49 1024.77 255.16 1023.69C258.84 1022.61 262.54 1021.6 266.26 1020.67C269.98 1019.75 273.73 1018.91 277.49 1018.14C281.25 1017.38 285.04 1016.7 288.83 1016.11C292.62 1015.52 296.43 1015 300.25 1014.58C304.06 1014.15 307.89 1013.81 311.72 1013.56C315.55 1013.31 319.39 1013.15 323.22 1013.07C327.06 1013 330.9 1013.01 334.73 1013.11C338.56 1013.22 342.4 1013.41 346.22 1013.7C350.04 1013.98 353.86 1014.36 357.66 1014.83C361.46 1015.3 365.25 1015.87 369.03 1016.53C372.8 1017.18 376.57 1017.93 380.31 1018.76C384.06 1019.59 387.79 1020.5 391.5 1021.49C395.22 1022.48 398.91 1023.56 402.59 1024.7C406.27 1025.84 409.92 1027.06 413.56 1028.34C417.2 1029.62 420.82 1030.96 424.41 1032.38C428 1033.79 431.57 1035.26 435.1 1036.82C438.62 1038.38 442.12 1040.01 445.56 1041.73C449 1043.45 452.41 1045.24 455.74 1047.14C459.07 1049.04 462.35 1051.04 465.56 1053.13C468.77 1055.22 471.91 1057.4 474.98 1059.68C478.06 1061.95 481.06 1064.33 484 1066.78C486.93 1069.23 489.8 1071.77 492.58 1074.38C495.37 1077 498.09 1079.7 500.73 1082.47C503.36 1085.24 505.93 1088.09 508.41 1091C510.89 1093.92 513.29 1096.91 515.61 1099.96C517.93 1103.01 520.17 1106.13 522.32 1109.3C524.47 1112.47 526.54 1115.71 528.52 1119C530.49 1122.28 532.39 1125.63 534.19 1129.02C535.99 1132.41 537.7 1135.85 539.31 1139.33C540.93 1142.82 542.45 1146.35 543.88 1149.91C545.3 1153.48 546.64 1157.09 547.87 1160.73C549.1 1164.36 550.23 1168.04 551.26 1171.74C552.29 1175.44 553.22 1179.17 554.05 1182.92C554.87 1186.68 555.59 1190.46 556.2 1194.25C556.82 1198.04 557.32 1201.86 557.72 1205.68C558.11 1209.51 558.4 1213.35 558.57 1217.19C558.74 1221.04 558.72 1226.82 558.75 1228.75" fill="none" stroke="#f01818" stroke-width="2" stroke-linejoin="round" stroke-linecap="round"/>
<path d="M66 1228.75C66.04 1227.19 66.09 1222.53 66.24 1219.41C66.4 1216.28 66.63 1213.14 66.94 1210.02C67.25 1206.89 67.64 1203.75 68.11 1200.64C68.58 1197.53 69.14 1194.42 69.78 1191.35C70.43 1188.27 71.16 1185.21 71.99 1182.19C72.81 1179.17 73.73 1176.17 74.75 1173.23C75.77 1170.28 76.88 1167.37 78.09 1164.53C79.31 1161.68 80.63 1158.88 82.05 1156.14C83.46 1153.41 84.99 1150.73 86.6 1148.11C88.22 1145.49 89.93 1142.93 91.72 1140.43C93.51 1137.93 95.4 1135.49 97.36 1133.11C99.32 1130.73 101.36 1128.41 103.47 1126.15C105.58 1123.89 107.77 1121.69 110.02 1119.56C112.27 1117.42 114.59 1115.34 116.96 1113.32C119.33 1111.31 121.76 1109.35 124.24 1107.46C126.72 1105.56 129.25 1103.73 131.83 1101.96C134.4 1100.19 137.03 1098.48 139.69 1096.84C142.35 1095.2 145.06 1093.62 147.8 1092.12C150.54 1090.61 153.33 1089.17 156.14 1087.8C158.96 1086.43 161.81 1085.12 164.69 1083.9C167.57 1082.67 170.48 1081.51 173.41 1080.42C176.35 1079.34 179.31 1078.33 182.29 1077.4C185.27 1076.47 188.28 1075.61 191.3 1074.83C194.33 1074.05 197.37 1073.35 200.42 1072.73C203.48 1072.11 206.55 1071.57 209.63 1071.11C212.71 1070.65 215.8 1070.28 218.89 1069.99C221.99 1069.7 225.09 1069.49 228.19 1069.37C231.3 1069.25 234.4 1069.22 237.51 1069.28C240.61 1069.33 243.71 1069.48 246.81 1069.72C249.9 1069.95 253 1070.27 256.07 1070.68C259.15 1071.09 262.22 1071.59 265.27 1072.17C268.33 1072.75 271.37 1073.41 274.39 1074.16C277.4 1074.9 280.41 1075.73 283.38 1076.64C286.36 1077.55 289.31 1078.54 292.24 1079.61C295.16 1080.68 298.06 1081.83 300.93 1083.05C303.79 1084.27 306.62 1085.57 309.42 1086.95C312.21 1088.32 314.97 1089.77 317.69 1091.3C320.41 1092.82 323.09 1094.42 325.72 1096.08C328.35 1097.75 330.94 1099.49 333.47 1101.29C336.01 1103.1 338.5 1104.97 340.93 1106.92C343.36 1108.86 345.74 1110.87 348.06 1112.94C350.38 1115.02 352.64 1117.16 354.84 1119.36C357.04 1121.56 359.17 1123.83 361.24 1126.16C363.31 1128.48 365.31 1130.87 367.24 1133.32C369.17 1135.76 371.03 1138.26 372.81 1140.82C374.59 1143.37 376.31 1145.98 377.93 1148.63C379.56 1151.28 381.11 1153.98 382.57 1156.73C384.03 1159.47 385.41 1162.26 386.7 1165.09C387.99 1167.91 389.2 1170.78 390.31 1173.68C391.42 1176.58 392.44 1179.52 393.36 1182.49C394.28 1185.45 395.11 1188.46 395.83 1191.48C396.55 1194.5 397.18 1197.55 397.69 1200.62C398.21 1203.69 398.63 1206.79 398.93 1209.9C399.23 1213.01 399.43 1216.14 399.5 1219.29C399.58 1222.43 399.42 1227.17 399.4 1228.75" fill="none" stroke="#20e020" stroke-width="2" stroke-linejoin="round" stroke-linecap="round"/>
<path d="M66 1228.75C66.12 1227.46 66.25 1223.49 66.7 1221C67.16 1218.51 67.88 1216.14 68.73 1213.83C69.57 1211.52 70.64 1209.3 71.78 1207.14C72.92 1204.98 74.22 1202.9 75.57 1200.86C76.92 1198.82 78.38 1196.84 79.89 1194.91C81.4 1192.97 83 1191.08 84.65 1189.23C86.3 1187.37 88.02 1185.56 89.77 1183.77C91.52 1181.97 93.34 1180.22 95.17 1178.47C97 1176.73 98.88 1175.01 100.77 1173.3C102.66 1171.59 104.57 1169.88 106.51 1168.21C108.45 1166.53 110.41 1164.87 112.39 1163.23C114.37 1161.6 116.38 1159.98 118.41 1158.4C120.43 1156.82 122.48 1155.27 124.55 1153.75C126.62 1152.24 128.71 1150.75 130.82 1149.31C132.93 1147.86 135.07 1146.46 137.22 1145.1C139.37 1143.74 141.54 1142.42 143.74 1141.16C145.93 1139.89 148.14 1138.68 150.37 1137.52C152.6 1136.36 154.85 1135.25 157.12 1134.21C159.38 1133.16 161.67 1132.17 163.98 1131.26C166.28 1130.34 168.6 1129.48 170.94 1128.7C173.28 1127.91 175.64 1127.2 178.01 1126.56C180.38 1125.92 182.77 1125.36 185.18 1124.88C187.59 1124.4 190.01 1123.99 192.45 1123.68C194.88 1123.36 197.34 1123.13 199.81 1122.99C202.27 1122.85 204.76 1122.8 207.25 1122.85C209.75 1122.89 212.25 1123.02 214.75 1123.24C217.26 1123.46 219.77 1123.77 222.26 1124.16C224.76 1124.55 227.26 1125.03 229.74 1125.59C232.22 1126.15 234.69 1126.79 237.13 1127.52C239.58 1128.24 242.01 1129.05 244.41 1129.93C246.8 1130.82 249.18 1131.78 251.52 1132.82C253.85 1133.86 256.16 1134.98 258.42 1136.18C260.67 1137.37 262.9 1138.63 265.06 1139.97C267.23 1141.31 269.36 1142.72 271.42 1144.2C273.48 1145.69 275.49 1147.24 277.43 1148.86C279.37 1150.48 281.25 1152.17 283.06 1153.92C284.86 1155.67 286.6 1157.49 288.26 1159.38C289.92 1161.26 291.5 1163.21 292.99 1165.21C294.49 1167.22 295.91 1169.28 297.25 1171.4C298.58 1173.51 299.84 1175.68 301.01 1177.89C302.18 1180.1 303.27 1182.36 304.28 1184.65C305.28 1186.94 306.21 1189.28 307.04 1191.65C307.88 1194.01 308.63 1196.41 309.3 1198.84C309.97 1201.26 310.55 1203.71 311.04 1206.18C311.53 1208.65 311.94 1211.14 312.26 1213.64C312.58 1216.14 312.81 1218.66 312.95 1221.17C313.09 1223.69 313.07 1227.49 313.1 1228.75" fill="none" stroke="#20e020" stroke-width="2" stroke-linejoin="round" stroke-linecap="round"/>
<path d="M68.3 1228.75 A20.4 19.3 0 0 1 109.1 1228.75 Z" fill="#fff" stroke="none"/>
<path d="M68.3 1228.75 A20.4 19.3 0 0 1 109.1 1228.75" fill="none" stroke="#f01818" stroke-width="3"/>
<rect x="66.25" y="950" width="558.25" height="278.75" fill="none" stroke="#0a0a0a" stroke-width="2.5"/>
<line x1="70" y1="1228.75" x2="107.5" y2="1228.75" stroke="#8a8a8a" stroke-width="2.6"/>
<line x1="237.5" y1="950" x2="237.5" y2="961" stroke="#0a0a0a" stroke-width="2.3"/>
<line x1="408.75" y1="950" x2="408.75" y2="961" stroke="#0a0a0a" stroke-width="2.3"/>
<line x1="580.75" y1="950" x2="580.75" y2="961" stroke="#0a0a0a" stroke-width="2.3"/>
<line x1="151.25" y1="950" x2="151.25" y2="955.5" stroke="#0a0a0a" stroke-width="2.3"/>
<line x1="322.5" y1="950" x2="322.5" y2="955.5" stroke="#0a0a0a" stroke-width="2.3"/>
<line x1="495" y1="950" x2="495" y2="955.5" stroke="#0a0a0a" stroke-width="2.3"/>
<line x1="66.25" y1="1005.5" x2="78.25" y2="1005.5" stroke="#0a0a0a" stroke-width="2.3"/>
<line x1="66.25" y1="1080" x2="78.25" y2="1080" stroke="#0a0a0a" stroke-width="2.3"/>
<line x1="66.25" y1="1153.75" x2="78.25" y2="1153.75" stroke="#0a0a0a" stroke-width="2.3"/>
<line x1="66.25" y1="968" x2="73.25" y2="968" stroke="#0a0a0a" stroke-width="2.3"/>
<line x1="66.25" y1="1042.5" x2="73.25" y2="1042.5" stroke="#0a0a0a" stroke-width="2.3"/>
<line x1="66.25" y1="1117" x2="73.25" y2="1117" stroke="#0a0a0a" stroke-width="2.3"/>
<line x1="66.25" y1="1191.25" x2="73.25" y2="1191.25" stroke="#0a0a0a" stroke-width="2.3"/>
<line x1="624.5" y1="1005.5" x2="612.5" y2="1005.5" stroke="#0a0a0a" stroke-width="2.3"/>
<line x1="624.5" y1="1080" x2="612.5" y2="1080" stroke="#0a0a0a" stroke-width="2.3"/>
<line x1="624.5" y1="1153.75" x2="612.5" y2="1153.75" stroke="#0a0a0a" stroke-width="2.3"/>
<line x1="624.5" y1="968" x2="617.5" y2="968" stroke="#0a0a0a" stroke-width="2.3"/>
<line x1="624.5" y1="1042.5" x2="617.5" y2="1042.5" stroke="#0a0a0a" stroke-width="2.3"/>
<line x1="624.5" y1="1117" x2="617.5" y2="1117" stroke="#0a0a0a" stroke-width="2.3"/>
<line x1="624.5" y1="1191.25" x2="617.5" y2="1191.25" stroke="#0a0a0a" stroke-width="2.3"/>
<text x="65" y="1247.8" font-size="14.8" font-family='"Liberation Sans", Arial, sans-serif' text-anchor="middle" fill="#333" stroke="#333" stroke-width="0.55">1</text>
<text x="252.5" y="1247.8" font-size="14.8" font-family='"Liberation Sans", Arial, sans-serif' text-anchor="middle" fill="#333" stroke="#333" stroke-width="0.55">1.1</text>
<text x="437.5" y="1247.8" font-size="14.8" font-family='"Liberation Sans", Arial, sans-serif' text-anchor="middle" fill="#333" stroke="#333" stroke-width="0.55">1.2</text>
<text x="623.5" y="1247.8" font-size="14.8" font-family='"Liberation Sans", Arial, sans-serif' text-anchor="middle" fill="#333" stroke="#333" stroke-width="0.55">1.3</text>
<text x="60" y="1010.1" font-size="14.8" font-family='"Liberation Sans", Arial, sans-serif' text-anchor="end" fill="#333" stroke="#333" stroke-width="0.55">0.12</text>
<text x="60" y="1084.6" font-size="14.8" font-family='"Liberation Sans", Arial, sans-serif' text-anchor="end" fill="#333" stroke="#333" stroke-width="0.55">0.08</text>
<text x="60" y="1158.35" font-size="14.8" font-family='"Liberation Sans", Arial, sans-serif' text-anchor="end" fill="#333" stroke="#333" stroke-width="0.55">0.04</text>
<text x="60" y="1233.35" font-size="14.8" font-family='"Liberation Sans", Arial, sans-serif' text-anchor="end" fill="#333" stroke="#333" stroke-width="0.55">0</text>
<text transform="translate(20.5 1088) rotate(-90)" font-size="24" font-family='"Liberation Serif", "Times New Roman", serif' text-anchor="middle" fill="#262626" textLength="108" lengthAdjust="spacingAndGlyphs" stroke="#262626" stroke-width="0.4">-Im{Z} (Ω)</text>
<text x="91.5" y="992" font-size="34" font-family='"Liberation Serif", "Times New Roman", serif' text-anchor="start" fill="#1c1c1c" stroke="#1c1c1c" stroke-width="0.3">(g)</text>
<text x="342" y="1272.5" font-size="24" font-family='"Liberation Serif", "Times New Roman", serif' text-anchor="middle" fill="#262626" textLength="100" lengthAdjust="spacingAndGlyphs" stroke="#262626" stroke-width="0.4">Re{Z} (Ω)</text>
<rect x="725.52" y="284.99" width="10.76" height="3.01" fill="#0000fb" stroke="#0000b4" stroke-width="0.6"/>
<rect x="736.28" y="282.98" width="10.76" height="5.02" fill="#0000fb" stroke="#0000b4" stroke-width="0.6"/>
<rect x="747.04" y="279.52" width="10.76" height="8.48" fill="#0000fb" stroke="#0000b4" stroke-width="0.6"/>
<rect x="757.8" y="276.28" width="10.76" height="11.72" fill="#0000fb" stroke="#0000b4" stroke-width="0.6"/>
<rect x="768.56" y="271.99" width="10.76" height="16.01" fill="#0000fb" stroke="#0000b4" stroke-width="0.6"/>
<rect x="779.32" y="267.02" width="10.76" height="20.98" fill="#0000fb" stroke="#0000b4" stroke-width="0.6"/>
<rect x="790.08" y="260.49" width="10.76" height="27.51" fill="#0000fb" stroke="#0000b4" stroke-width="0.6"/>
<rect x="800.84" y="250.73" width="10.76" height="37.27" fill="#0000fb" stroke="#0000b4" stroke-width="0.6"/>
<rect x="811.6" y="244.48" width="10.76" height="43.52" fill="#0000fb" stroke="#0000b4" stroke-width="0.6"/>
<rect x="822.36" y="238.28" width="10.76" height="49.72" fill="#0000fb" stroke="#0000b4" stroke-width="0.6"/>
<rect x="833.12" y="228.74" width="10.76" height="59.26" fill="#0000fb" stroke="#0000b4" stroke-width="0.6"/>
<rect x="843.88" y="219.25" width="10.76" height="68.75" fill="#0000fb" stroke="#0000b4" stroke-width="0.6"/>
<rect x="854.64" y="206.25" width="10.76" height="81.75" fill="#0000fb" stroke="#0000b4" stroke-width="0.6"/>
<rect x="865.4" y="193.75" width="10.76" height="94.25" fill="#0000fb" stroke="#0000b4" stroke-width="0.6"/>
<rect x="876.16" y="188.73" width="10.76" height="99.27" fill="#0000fb" stroke="#0000b4" stroke-width="0.6"/>
<rect x="886.92" y="169.98" width="10.76" height="118.02" fill="#0000fb" stroke="#0000b4" stroke-width="0.6"/>
<rect x="897.68" y="165.02" width="10.76" height="122.98" fill="#0000fb" stroke="#0000b4" stroke-width="0.6"/>
<rect x="908.44" y="148.28" width="10.76" height="139.72" fill="#0000fb" stroke="#0000b4" stroke-width="0.6"/>
<rect x="919.2" y="141.25" width="10.76" height="146.75" fill="#0000fb" stroke="#0000b4" stroke-width="0.6"/>
<rect x="929.96" y="129.97" width="10.76" height="158.03" fill="#0000fb" stroke="#0000b4" stroke-width="0.6"/>
<rect x="940.72" y="119.99" width="10.76" height="168.01" fill="#0000fb" stroke="#0000b4" stroke-width="0.6"/>
<rect x="951.48" y="110" width="10.76" height="178" fill="#0000fb" stroke="#0000b4" stroke-width="0.6"/>
<rect x="962.24" y="103.75" width="10.76" height="184.25" fill="#0000fb" stroke="#0000b4" stroke-width="0.6"/>
<rect x="973" y="93.26" width="10.76" height="194.74" fill="#0000fb" stroke="#0000b4" stroke-width="0.6"/>
<rect x="983.76" y="90.02" width="10.76" height="197.98" fill="#0000fb" stroke="#0000b4" stroke-width="0.6"/>
<rect x="994.52" y="86.28" width="10.76" height="201.72" fill="#0000fb" stroke="#0000b4" stroke-width="0.6"/>
<rect x="1005.28" y="67.98" width="10.76" height="220.02" fill="#0000fb" stroke="#0000b4" stroke-width="0.6"/>
<rect x="1016.04" y="73.73" width="10.76" height="214.27" fill="#0000fb" stroke="#0000b4" stroke-width="0.6"/>
<rect x="1026.8" y="73" width="10.76" height="215" fill="#0000fb" stroke="#0000b4" stroke-width="0.6"/>
<rect x="1037.56" y="62.51" width="10.76" height="225.49" fill="#0000fb" stroke="#0000b4" stroke-width="0.6"/>
<rect x="1048.32" y="45.77" width="10.76" height="242.23" fill="#0000fb" stroke="#0000b4" stroke-width="0.6"/>
<rect x="1059.08" y="53.03" width="10.76" height="234.97" fill="#0000fb" stroke="#0000b4" stroke-width="0.6"/>
<rect x="1069.84" y="55.48" width="10.76" height="232.52" fill="#0000fb" stroke="#0000b4" stroke-width="0.6"/>
<rect x="1080.6" y="56.26" width="10.76" height="231.74" fill="#0000fb" stroke="#0000b4" stroke-width="0.6"/>
<rect x="1091.36" y="66.25" width="10.76" height="221.75" fill="#0000fb" stroke="#0000b4" stroke-width="0.6"/>
<rect x="1102.12" y="74.23" width="10.76" height="213.77" fill="#0000fb" stroke="#0000b4" stroke-width="0.6"/>
<rect x="1112.88" y="99.51" width="10.76" height="188.49" fill="#0000fb" stroke="#0000b4" stroke-width="0.6"/>
<rect x="1123.64" y="115.52" width="10.76" height="172.48" fill="#0000fb" stroke="#0000b4" stroke-width="0.6"/>
<rect x="1134.4" y="139.01" width="10.76" height="148.99" fill="#0000fb" stroke="#0000b4" stroke-width="0.6"/>
<rect x="1145.16" y="171.27" width="10.76" height="116.73" fill="#0000fb" stroke="#0000b4" stroke-width="0.6"/>
<rect x="1155.92" y="193.75" width="10.76" height="94.25" fill="#0000fb" stroke="#0000b4" stroke-width="0.6"/>
<rect x="1166.68" y="219.48" width="10.76" height="68.52" fill="#0000fb" stroke="#0000b4" stroke-width="0.6"/>
<rect x="1177.44" y="241.74" width="10.76" height="46.26" fill="#0000fb" stroke="#0000b4" stroke-width="0.6"/>
<rect x="1188.2" y="261.77" width="10.76" height="26.23" fill="#0000fb" stroke="#0000b4" stroke-width="0.6"/>
<rect x="1198.96" y="276" width="10.76" height="12" fill="#0000fb" stroke="#0000b4" stroke-width="0.6"/>
<rect x="1209.72" y="283.26" width="10.76" height="4.74" fill="#0000fb" stroke="#0000b4" stroke-width="0.6"/>
<rect x="704" y="9" width="559.75" height="279" fill="none" stroke="#0a0a0a" stroke-width="2.5"/>
<line x1="833.12" y1="9" x2="833.12" y2="19" stroke="#0a0a0a" stroke-width="2.3"/>
<line x1="1048.32" y1="9" x2="1048.32" y2="19" stroke="#0a0a0a" stroke-width="2.3"/>
<line x1="725.52" y1="9" x2="725.52" y2="14.5" stroke="#0a0a0a" stroke-width="2.3"/>
<line x1="940.72" y1="9" x2="940.72" y2="14.5" stroke="#0a0a0a" stroke-width="2.3"/>
<line x1="1155.92" y1="9" x2="1155.92" y2="14.5" stroke="#0a0a0a" stroke-width="2.3"/>
<line x1="725.52" y1="288" x2="725.52" y2="282.5" stroke="#0a0a0a" stroke-width="2.3"/>
<line x1="1242" y1="288" x2="1242" y2="282.5" stroke="#0a0a0a" stroke-width="2.3"/>
<line x1="1220.48" y1="288" x2="1220.48" y2="278" stroke="#0a0a0a" stroke-width="2.3"/>
<line x1="704" y1="64.8" x2="715" y2="64.8" stroke="#0a0a0a" stroke-width="2.3"/>
<line x1="704" y1="120.6" x2="715" y2="120.6" stroke="#0a0a0a" stroke-width="2.3"/>
<line x1="704" y1="176.4" x2="715" y2="176.4" stroke="#0a0a0a" stroke-width="2.3"/>
<line x1="704" y1="232.2" x2="715" y2="232.2" stroke="#0a0a0a" stroke-width="2.3"/>
<line x1="704" y1="36.9" x2="709.5" y2="36.9" stroke="#0a0a0a" stroke-width="2.3"/>
<line x1="704" y1="92.7" x2="709.5" y2="92.7" stroke="#0a0a0a" stroke-width="2.3"/>
<line x1="704" y1="148.5" x2="709.5" y2="148.5" stroke="#0a0a0a" stroke-width="2.3"/>
<line x1="704" y1="204.3" x2="709.5" y2="204.3" stroke="#0a0a0a" stroke-width="2.3"/>
<line x1="704" y1="260.1" x2="709.5" y2="260.1" stroke="#0a0a0a" stroke-width="2.3"/>
<line x1="1263.75" y1="64.8" x2="1252.75" y2="64.8" stroke="#0a0a0a" stroke-width="2.3"/>
<line x1="1263.75" y1="120.6" x2="1252.75" y2="120.6" stroke="#0a0a0a" stroke-width="2.3"/>
<line x1="1263.75" y1="176.4" x2="1252.75" y2="176.4" stroke="#0a0a0a" stroke-width="2.3"/>
<line x1="1263.75" y1="232.2" x2="1252.75" y2="232.2" stroke="#0a0a0a" stroke-width="2.3"/>
<line x1="1263.75" y1="36.9" x2="1258" y2="36.9" stroke="#0a0a0a" stroke-width="2.3"/>
<line x1="1263.75" y1="92.7" x2="1258" y2="92.7" stroke="#0a0a0a" stroke-width="2.3"/>
<line x1="1263.75" y1="148.5" x2="1258" y2="148.5" stroke="#0a0a0a" stroke-width="2.3"/>
<line x1="1263.75" y1="204.3" x2="1258" y2="204.3" stroke="#0a0a0a" stroke-width="2.3"/>
<line x1="1263.75" y1="260.1" x2="1258" y2="260.1" stroke="#0a0a0a" stroke-width="2.3"/>
<text x="704" y="306.4" font-size="14.8" font-family='"Liberation Sans", Arial, sans-serif' text-anchor="middle" fill="#333" stroke="#333" stroke-width="0.55">74</text>
<text x="747.04" y="306.4" font-size="14.8" font-family='"Liberation Sans", Arial, sans-serif' text-anchor="middle" fill="#333" stroke="#333" stroke-width="0.55">76</text>
<text x="790.08" y="306.4" font-size="14.8" font-family='"Liberation Sans", Arial, sans-serif' text-anchor="middle" fill="#333" stroke="#333" stroke-width="0.55">78</text>
<text x="833.12" y="306.4" font-size="14.8" font-family='"Liberation Sans", Arial, sans-serif' text-anchor="middle" fill="#333" stroke="#333" stroke-width="0.55">80</text>
<text x="876.16" y="306.4" font-size="14.8" font-family='"Liberation Sans", Arial, sans-serif' text-anchor="middle" fill="#333" stroke="#333" stroke-width="0.55">82</text>
<text x="919.2" y="306.4" font-size="14.8" font-family='"Liberation Sans", Arial, sans-serif' text-anchor="middle" fill="#333" stroke="#333" stroke-width="0.55">84</text>
<text x="962.24" y="306.4" font-size="14.8" font-family='"Liberation Sans", Arial, sans-serif' text-anchor="middle" fill="#333" stroke="#333" stroke-width="0.55">86</text>
<text x="1005.28" y="306.4" font-size="14.8" font-family='"Liberation Sans", Arial, sans-serif' text-anchor="middle" fill="#333" stroke="#333" stroke-width="0.55">88</text>
<text x="1048.32" y="306.4" font-size="14.8" font-family='"Liberation Sans", Arial, sans-serif' text-anchor="middle" fill="#333" stroke="#333" stroke-width="0.55">90</text>
<text x="1091.36" y="306.4" font-size="14.8" font-family='"Liberation Sans", Arial, sans-serif' text-anchor="middle" fill="#333" stroke="#333" stroke-width="0.55">92</text>
<text x="1134.4" y="306.4" font-size="14.8" font-family='"Liberation Sans", Arial, sans-serif' text-anchor="middle" fill="#333" stroke="#333" stroke-width="0.55">94</text>
<text x="1177.44" y="306.4" font-size="14.8" font-family='"Liberation Sans", Arial, sans-serif' text-anchor="middle" fill="#333" stroke="#333" stroke-width="0.55">96</text>
<text x="1220.48" y="306.4" font-size="14.8" font-family='"Liberation Sans", Arial, sans-serif' text-anchor="middle" fill="#333" stroke="#333" stroke-width="0.55">98</text>
<text x="1263.52" y="306.4" font-size="14.8" font-family='"Liberation Sans", Arial, sans-serif' text-anchor="middle" fill="#333" stroke="#333" stroke-width="0.55">100</text>
<text x="699" y="292.6" font-size="14.8" font-family='"Liberation Sans", Arial, sans-serif' text-anchor="end" fill="#333" stroke="#333" stroke-width="0.55">0</text>
<text x="699" y="236.8" font-size="14.8" font-family='"Liberation Sans", Arial, sans-serif' text-anchor="end" fill="#333" stroke="#333" stroke-width="0.55">1000</text>
<text x="699" y="181" font-size="14.8" font-family='"Liberation Sans", Arial, sans-serif' text-anchor="end" fill="#333" stroke="#333" stroke-width="0.55">2000</text>
<text x="699" y="125.2" font-size="14.8" font-family='"Liberation Sans", Arial, sans-serif' text-anchor="end" fill="#333" stroke="#333" stroke-width="0.55">3000</text>
<text x="699" y="69.4" font-size="14.8" font-family='"Liberation Sans", Arial, sans-serif' text-anchor="end" fill="#333" stroke="#333" stroke-width="0.55">4000</text>
<text x="699" y="13.6" font-size="14.8" font-family='"Liberation Sans", Arial, sans-serif' text-anchor="end" fill="#333" stroke="#333" stroke-width="0.55">5000</text>
<text transform="translate(656 147.5) rotate(-90)" font-size="24.5" font-family='"Liberation Serif", "Times New Roman", serif' text-anchor="middle" fill="#262626" textLength="66" lengthAdjust="spacingAndGlyphs" stroke="#262626" stroke-width="0.4">Counts</text>
<text x="719" y="53.5" font-size="35" font-family='"Liberation Serif", "Times New Roman", serif' text-anchor="start" fill="#1c1c1c" stroke="#1c1c1c" stroke-width="0.3">(b)</text>
<text x="791" y="51" font-size="21.3" font-family='"Liberation Serif", "Times New Roman", serif' text-anchor="start" fill="#262626" stroke="#262626" stroke-width="0.3">100,000</text>
<text x="791" y="77.5" font-size="21.3" font-family='"Liberation Serif", "Times New Roman", serif' text-anchor="start" fill="#262626" stroke="#262626" stroke-width="0.3">counts</text>
<text x="717.5" y="109" font-size="26.3" font-family='"Liberation Serif", "Times New Roman", serif' fill="#1c1c1c" stroke="#1c1c1c" stroke-width="0.3">R<tspan dy="5.79" font-size="17.88">s</tspan><tspan dy="-5.79"> </tspan>= 0.5 Ω</text>
<text x="717.5" y="140" font-size="26.3" font-family='"Liberation Serif", "Times New Roman", serif' fill="#1c1c1c" stroke="#1c1c1c" stroke-width="0.3">R<tspan dy="5.79" font-size="17.88">e</tspan><tspan dy="-5.79"> </tspan>= R<tspan dy="5.79" font-size="17.88">i</tspan><tspan dy="-5.79"> </tspan>= 0.25 Ω</text>
<text x="717.5" y="172.5" font-size="26.3" font-family='"Liberation Serif", "Times New Roman", serif' fill="#1c1c1c" stroke="#1c1c1c" stroke-width="0.3">C = 0.1 – 0.4 F</text>
<rect x="784.5" y="599.38" width="10.06" height="1.12" fill="#0000fb" stroke="#0000b4" stroke-width="0.6"/>
<rect x="794.56" y="595.58" width="10.06" height="4.92" fill="#0000fb" stroke="#0000b4" stroke-width="0.6"/>
<rect x="804.62" y="590.3" width="10.06" height="10.2" fill="#0000fb" stroke="#0000b4" stroke-width="0.6"/>
<rect x="814.69" y="582.5" width="10.06" height="18" fill="#0000fb" stroke="#0000b4" stroke-width="0.6"/>
<rect x="824.75" y="573.66" width="10.06" height="26.84" fill="#0000fb" stroke="#0000b4" stroke-width="0.6"/>
<rect x="834.81" y="564.58" width="10.06" height="35.92" fill="#0000fb" stroke="#0000b4" stroke-width="0.6"/>
<rect x="844.88" y="548.34" width="10.06" height="52.16" fill="#0000fb" stroke="#0000b4" stroke-width="0.6"/>
<rect x="854.94" y="534.02" width="10.06" height="66.48" fill="#0000fb" stroke="#0000b4" stroke-width="0.6"/>
<rect x="865" y="518.82" width="10.06" height="81.68" fill="#0000fb" stroke="#0000b4" stroke-width="0.6"/>
<rect x="875.06" y="501.94" width="10.06" height="98.56" fill="#0000fb" stroke="#0000b4" stroke-width="0.6"/>
<rect x="885.12" y="475.58" width="10.06" height="124.92" fill="#0000fb" stroke="#0000b4" stroke-width="0.6"/>
<rect x="895.19" y="461.26" width="10.06" height="139.24" fill="#0000fb" stroke="#0000b4" stroke-width="0.6"/>
<rect x="905.25" y="444.38" width="10.06" height="156.12" fill="#0000fb" stroke="#0000b4" stroke-width="0.6"/>
<rect x="915.31" y="423.3" width="10.06" height="177.2" fill="#0000fb" stroke="#0000b4" stroke-width="0.6"/>
<rect x="925.38" y="410.02" width="10.06" height="190.48" fill="#0000fb" stroke="#0000b4" stroke-width="0.6"/>
<rect x="935.44" y="390.62" width="10.06" height="209.88" fill="#0000fb" stroke="#0000b4" stroke-width="0.6"/>
<rect x="945.5" y="382.18" width="10.06" height="218.32" fill="#0000fb" stroke="#0000b4" stroke-width="0.6"/>
<rect x="955.56" y="373.74" width="10.06" height="226.76" fill="#0000fb" stroke="#0000b4" stroke-width="0.6"/>
<rect x="965.62" y="364.9" width="10.06" height="235.6" fill="#0000fb" stroke="#0000b4" stroke-width="0.6"/>
<rect x="975.69" y="374.38" width="10.06" height="226.12" fill="#0000fb" stroke="#0000b4" stroke-width="0.6"/>
<rect x="985.75" y="371.22" width="10.06" height="229.28" fill="#0000fb" stroke="#0000b4" stroke-width="0.6"/>
<rect x="995.81" y="385.34" width="10.06" height="215.16" fill="#0000fb" stroke="#0000b4" stroke-width="0.6"/>
<rect x="1005.88" y="399.02" width="10.06" height="201.48" fill="#0000fb" stroke="#0000b4" stroke-width="0.6"/>
<rect x="1015.94" y="416.34" width="10.06" height="184.16" fill="#0000fb" stroke="#0000b4" stroke-width="0.6"/>
<rect x="1026" y="427.5" width="10.06" height="173" fill="#0000fb" stroke="#0000b4" stroke-width="0.6"/>
<rect x="1036.06" y="457.02" width="10.06" height="143.48" fill="#0000fb" stroke="#0000b4" stroke-width="0.6"/>
<rect x="1046.12" y="476.66" width="10.06" height="123.84" fill="#0000fb" stroke="#0000b4" stroke-width="0.6"/>
<rect x="1056.19" y="495.02" width="10.06" height="105.48" fill="#0000fb" stroke="#0000b4" stroke-width="0.6"/>
<rect x="1066.25" y="516.74" width="10.06" height="83.76" fill="#0000fb" stroke="#0000b4" stroke-width="0.6"/>
<rect x="1076.31" y="535.7" width="10.06" height="64.8" fill="#0000fb" stroke="#0000b4" stroke-width="0.6"/>
<rect x="1086.38" y="548.78" width="10.06" height="51.72" fill="#0000fb" stroke="#0000b4" stroke-width="0.6"/>
<rect x="1096.44" y="565.22" width="10.06" height="35.28" fill="#0000fb" stroke="#0000b4" stroke-width="0.6"/>
<rect x="1106.5" y="575.14" width="10.06" height="25.36" fill="#0000fb" stroke="#0000b4" stroke-width="0.6"/>
<rect x="1116.56" y="584.22" width="10.06" height="16.28" fill="#0000fb" stroke="#0000b4" stroke-width="0.6"/>
<rect x="1126.62" y="590.94" width="10.06" height="9.56" fill="#0000fb" stroke="#0000b4" stroke-width="0.6"/>
<rect x="1136.69" y="595.18" width="10.06" height="5.32" fill="#0000fb" stroke="#0000b4" stroke-width="0.6"/>
<rect x="1146.75" y="597.7" width="10.06" height="2.8" fill="#0000fb" stroke="#0000b4" stroke-width="0.6"/>
<rect x="1156.81" y="599.38" width="10.06" height="1.12" fill="#0000fb" stroke="#0000b4" stroke-width="0.6"/>
<rect x="704" y="320" width="563.5" height="280.5" fill="none" stroke="#0a0a0a" stroke-width="2.5"/>
<line x1="744.25" y1="600.5" x2="744.25" y2="590.5" stroke="#0a0a0a" stroke-width="2.3"/>
<line x1="784.5" y1="600.5" x2="784.5" y2="590.5" stroke="#0a0a0a" stroke-width="2.3"/>
<line x1="824.75" y1="600.5" x2="824.75" y2="590.5" stroke="#0a0a0a" stroke-width="2.3"/>
<line x1="865" y1="600.5" x2="865" y2="590.5" stroke="#0a0a0a" stroke-width="2.3"/>
<line x1="905.25" y1="600.5" x2="905.25" y2="590.5" stroke="#0a0a0a" stroke-width="2.3"/>
<line x1="945.5" y1="600.5" x2="945.5" y2="590.5" stroke="#0a0a0a" stroke-width="2.3"/>
<line x1="985.75" y1="600.5" x2="985.75" y2="590.5" stroke="#0a0a0a" stroke-width="2.3"/>
<line x1="1026" y1="600.5" x2="1026" y2="590.5" stroke="#0a0a0a" stroke-width="2.3"/>
<line x1="1066.25" y1="600.5" x2="1066.25" y2="590.5" stroke="#0a0a0a" stroke-width="2.3"/>
<line x1="1106.5" y1="600.5" x2="1106.5" y2="590.5" stroke="#0a0a0a" stroke-width="2.3"/>
<line x1="1146.75" y1="600.5" x2="1146.75" y2="590.5" stroke="#0a0a0a" stroke-width="2.3"/>
<line x1="1187" y1="600.5" x2="1187" y2="590.5" stroke="#0a0a0a" stroke-width="2.3"/>
<line x1="1227.25" y1="600.5" x2="1227.25" y2="590.5" stroke="#0a0a0a" stroke-width="2.3"/>
<line x1="724.12" y1="600.5" x2="724.12" y2="595.5" stroke="#0a0a0a" stroke-width="2.3"/>
<line x1="764.38" y1="600.5" x2="764.38" y2="595.5" stroke="#0a0a0a" stroke-width="2.3"/>
<line x1="804.62" y1="600.5" x2="804.62" y2="595.5" stroke="#0a0a0a" stroke-width="2.3"/>
<line x1="844.88" y1="600.5" x2="844.88" y2="595.5" stroke="#0a0a0a" stroke-width="2.3"/>
<line x1="885.12" y1="600.5" x2="885.12" y2="595.5" stroke="#0a0a0a" stroke-width="2.3"/>
<line x1="925.38" y1="600.5" x2="925.38" y2="595.5" stroke="#0a0a0a" stroke-width="2.3"/>
<line x1="965.62" y1="600.5" x2="965.62" y2="595.5" stroke="#0a0a0a" stroke-width="2.3"/>
<line x1="1005.88" y1="600.5" x2="1005.88" y2="595.5" stroke="#0a0a0a" stroke-width="2.3"/>
<line x1="1046.12" y1="600.5" x2="1046.12" y2="595.5" stroke="#0a0a0a" stroke-width="2.3"/>
<line x1="1086.38" y1="600.5" x2="1086.38" y2="595.5" stroke="#0a0a0a" stroke-width="2.3"/>
<line x1="1126.62" y1="600.5" x2="1126.62" y2="595.5" stroke="#0a0a0a" stroke-width="2.3"/>
<line x1="1166.88" y1="600.5" x2="1166.88" y2="595.5" stroke="#0a0a0a" stroke-width="2.3"/>
<line x1="1207.12" y1="600.5" x2="1207.12" y2="595.5" stroke="#0a0a0a" stroke-width="2.3"/>
<line x1="1247.38" y1="600.5" x2="1247.38" y2="595.5" stroke="#0a0a0a" stroke-width="2.3"/>
<line x1="784.5" y1="320" x2="784.5" y2="330" stroke="#0a0a0a" stroke-width="2.3"/>
<line x1="945.5" y1="320" x2="945.5" y2="330" stroke="#0a0a0a" stroke-width="2.3"/>
<line x1="1106.5" y1="320" x2="1106.5" y2="330" stroke="#0a0a0a" stroke-width="2.3"/>
<line x1="865" y1="320" x2="865" y2="326" stroke="#0a0a0a" stroke-width="2.3"/>
<line x1="1026" y1="320" x2="1026" y2="326" stroke="#0a0a0a" stroke-width="2.3"/>
<line x1="1187" y1="320" x2="1187" y2="326" stroke="#0a0a0a" stroke-width="2.3"/>
<line x1="704" y1="360.5" x2="715" y2="360.5" stroke="#0a0a0a" stroke-width="2.3"/>
<line x1="704" y1="440.5" x2="715" y2="440.5" stroke="#0a0a0a" stroke-width="2.3"/>
<line x1="704" y1="520.5" x2="715" y2="520.5" stroke="#0a0a0a" stroke-width="2.3"/>
<line x1="704" y1="400.5" x2="709.5" y2="400.5" stroke="#0a0a0a" stroke-width="2.3"/>
<line x1="704" y1="480.5" x2="709.5" y2="480.5" stroke="#0a0a0a" stroke-width="2.3"/>
<line x1="704" y1="560.5" x2="709.5" y2="560.5" stroke="#0a0a0a" stroke-width="2.3"/>
<line x1="1267.5" y1="360.5" x2="1256.5" y2="360.5" stroke="#0a0a0a" stroke-width="2.3"/>
<line x1="1267.5" y1="440.5" x2="1256.5" y2="440.5" stroke="#0a0a0a" stroke-width="2.3"/>
<line x1="1267.5" y1="520.5" x2="1256.5" y2="520.5" stroke="#0a0a0a" stroke-width="2.3"/>
<line x1="1267.5" y1="400.5" x2="1262" y2="400.5" stroke="#0a0a0a" stroke-width="2.3"/>
<line x1="1267.5" y1="480.5" x2="1262" y2="480.5" stroke="#0a0a0a" stroke-width="2.3"/>
<line x1="1267.5" y1="560.5" x2="1262" y2="560.5" stroke="#0a0a0a" stroke-width="2.3"/>
<text x="704" y="620.3" font-size="14.8" font-family='"Liberation Sans", Arial, sans-serif' text-anchor="middle" fill="#333" stroke="#333" stroke-width="0.55">82</text>
<text x="744.25" y="620.3" font-size="14.8" font-family='"Liberation Sans", Arial, sans-serif' text-anchor="middle" fill="#333" stroke="#333" stroke-width="0.55">83</text>
<text x="784.5" y="620.3" font-size="14.8" font-family='"Liberation Sans", Arial, sans-serif' text-anchor="middle" fill="#333" stroke="#333" stroke-width="0.55">84</text>
<text x="824.75" y="620.3" font-size="14.8" font-family='"Liberation Sans", Arial, sans-serif' text-anchor="middle" fill="#333" stroke="#333" stroke-width="0.55">85</text>
<text x="865" y="620.3" font-size="14.8" font-family='"Liberation Sans", Arial, sans-serif' text-anchor="middle" fill="#333" stroke="#333" stroke-width="0.55">86</text>
<text x="905.25" y="620.3" font-size="14.8" font-family='"Liberation Sans", Arial, sans-serif' text-anchor="middle" fill="#333" stroke="#333" stroke-width="0.55">87</text>
<text x="945.5" y="620.3" font-size="14.8" font-family='"Liberation Sans", Arial, sans-serif' text-anchor="middle" fill="#333" stroke="#333" stroke-width="0.55">88</text>
<text x="985.75" y="620.3" font-size="14.8" font-family='"Liberation Sans", Arial, sans-serif' text-anchor="middle" fill="#333" stroke="#333" stroke-width="0.55">89</text>
<text x="1026" y="620.3" font-size="14.8" font-family='"Liberation Sans", Arial, sans-serif' text-anchor="middle" fill="#333" stroke="#333" stroke-width="0.55">90</text>
<text x="1066.25" y="620.3" font-size="14.8" font-family='"Liberation Sans", Arial, sans-serif' text-anchor="middle" fill="#333" stroke="#333" stroke-width="0.55">91</text>
<text x="1106.5" y="620.3" font-size="14.8" font-family='"Liberation Sans", Arial, sans-serif' text-anchor="middle" fill="#333" stroke="#333" stroke-width="0.55">92</text>
<text x="1146.75" y="620.3" font-size="14.8" font-family='"Liberation Sans", Arial, sans-serif' text-anchor="middle" fill="#333" stroke="#333" stroke-width="0.55">93</text>
<text x="1187" y="620.3" font-size="14.8" font-family='"Liberation Sans", Arial, sans-serif' text-anchor="middle" fill="#333" stroke="#333" stroke-width="0.55">94</text>
<text x="1227.25" y="620.3" font-size="14.8" font-family='"Liberation Sans", Arial, sans-serif' text-anchor="middle" fill="#333" stroke="#333" stroke-width="0.55">95</text>
<text x="1267.5" y="620.3" font-size="14.8" font-family='"Liberation Sans", Arial, sans-serif' text-anchor="middle" fill="#333" stroke="#333" stroke-width="0.55">96</text>
<text x="699" y="605.4" font-size="14.8" font-family='"Liberation Sans", Arial, sans-serif' text-anchor="end" fill="#333" stroke="#333" stroke-width="0.55">0</text>
<text x="699" y="525.1" font-size="14.8" font-family='"Liberation Sans", Arial, sans-serif' text-anchor="end" fill="#333" stroke="#333" stroke-width="0.55">2000</text>
<text x="699" y="445.1" font-size="14.8" font-family='"Liberation Sans", Arial, sans-serif' text-anchor="end" fill="#333" stroke="#333" stroke-width="0.55">4000</text>
<text x="699" y="365.1" font-size="14.8" font-family='"Liberation Sans", Arial, sans-serif' text-anchor="end" fill="#333" stroke="#333" stroke-width="0.55">6000</text>
<text transform="translate(656.3 460) rotate(-90)" font-size="24.5" font-family='"Liberation Serif", "Times New Roman", serif' text-anchor="middle" fill="#262626" textLength="66" lengthAdjust="spacingAndGlyphs" stroke="#262626" stroke-width="0.4">Counts</text>
<text x="721.5" y="360" font-size="34" font-family='"Liberation Serif", "Times New Roman", serif' text-anchor="start" fill="#1c1c1c" stroke="#1c1c1c" stroke-width="0.3">(d)</text>
<text x="793" y="354" font-size="21.3" font-family='"Liberation Serif", "Times New Roman", serif' text-anchor="start" fill="#262626" stroke="#262626" stroke-width="0.3">100,000</text>
<text x="791.5" y="379.4" font-size="21.3" font-family='"Liberation Serif", "Times New Roman", serif' text-anchor="start" fill="#262626" stroke="#262626" stroke-width="0.3">counts</text>
<text x="1056.5" y="376.4" font-size="28.4" font-family='"Liberation Serif", "Times New Roman", serif' fill="#1c1c1c" stroke="#1c1c1c" stroke-width="0.3">R<tspan dy="6.25" font-size="19.31">s</tspan><tspan dy="-6.25"> </tspan>= 0.4 - 1.0 Ω</text>
<text x="1056.5" y="410.4" font-size="28.4" font-family='"Liberation Serif", "Times New Roman", serif' fill="#1c1c1c" stroke="#1c1c1c" stroke-width="0.3">R<tspan dy="6.25" font-size="19.31">e</tspan><tspan dy="-6.25"> </tspan>= R<tspan dy="6.25" font-size="19.31">i</tspan><tspan dy="-6.25"> </tspan>= 0.25 Ω</text>
<text x="1056.5" y="444.6" font-size="28.4" font-family='"Liberation Serif", "Times New Roman", serif' fill="#1c1c1c" stroke="#1c1c1c" stroke-width="0.3">C = 1 F</text>
<line x1="1275.8" y1="319" x2="1275.8" y2="622" stroke="#c6c6c6" stroke-width="1.8"/>
<rect x="777.1" y="911.29" width="5.62" height="1.21" fill="#0000fb" stroke="#0000b4" stroke-width="0.6"/>
<rect x="782.72" y="910.64" width="5.62" height="1.86" fill="#0000fb" stroke="#0000b4" stroke-width="0.6"/>
<rect x="788.34" y="908.13" width="5.62" height="4.37" fill="#0000fb" stroke="#0000b4" stroke-width="0.6"/>
<rect x="793.96" y="905.43" width="5.62" height="7.07" fill="#0000fb" stroke="#0000b4" stroke-width="0.6"/>
<rect x="799.58" y="903.11" width="5.62" height="9.39" fill="#0000fb" stroke="#0000b4" stroke-width="0.6"/>
<rect x="805.21" y="900.6" width="5.62" height="11.9" fill="#0000fb" stroke="#0000b4" stroke-width="0.6"/>
<rect x="810.83" y="895.02" width="5.62" height="17.48" fill="#0000fb" stroke="#0000b4" stroke-width="0.6"/>
<rect x="816.45" y="891.85" width="5.62" height="20.65" fill="#0000fb" stroke="#0000b4" stroke-width="0.6"/>
<rect x="822.07" y="886.92" width="5.62" height="25.58" fill="#0000fb" stroke="#0000b4" stroke-width="0.6"/>
<rect x="827.69" y="880.04" width="5.62" height="32.46" fill="#0000fb" stroke="#0000b4" stroke-width="0.6"/>
<rect x="833.31" y="879.39" width="5.62" height="33.11" fill="#0000fb" stroke="#0000b4" stroke-width="0.6"/>
<rect x="838.93" y="874.37" width="5.62" height="38.13" fill="#0000fb" stroke="#0000b4" stroke-width="0.6"/>
<rect x="844.55" y="871.86" width="5.62" height="40.64" fill="#0000fb" stroke="#0000b4" stroke-width="0.6"/>
<rect x="850.17" y="864.42" width="5.62" height="48.08" fill="#0000fb" stroke="#0000b4" stroke-width="0.6"/>
<rect x="855.79" y="859.96" width="5.62" height="52.54" fill="#0000fb" stroke="#0000b4" stroke-width="0.6"/>
<rect x="861.42" y="858.1" width="5.62" height="54.4" fill="#0000fb" stroke="#0000b4" stroke-width="0.6"/>
<rect x="867.04" y="857.26" width="5.62" height="55.24" fill="#0000fb" stroke="#0000b4" stroke-width="0.6"/>
<rect x="872.66" y="855.58" width="5.62" height="56.92" fill="#0000fb" stroke="#0000b4" stroke-width="0.6"/>
<rect x="878.28" y="855.03" width="5.62" height="57.47" fill="#0000fb" stroke="#0000b4" stroke-width="0.6"/>
<rect x="883.9" y="849.07" width="5.62" height="63.43" fill="#0000fb" stroke="#0000b4" stroke-width="0.6"/>
<rect x="889.52" y="851.21" width="5.62" height="61.29" fill="#0000fb" stroke="#0000b4" stroke-width="0.6"/>
<rect x="895.14" y="849.35" width="5.62" height="63.15" fill="#0000fb" stroke="#0000b4" stroke-width="0.6"/>
<rect x="900.76" y="853.72" width="5.62" height="58.78" fill="#0000fb" stroke="#0000b4" stroke-width="0.6"/>
<rect x="906.38" y="848.79" width="5.62" height="63.71" fill="#0000fb" stroke="#0000b4" stroke-width="0.6"/>
<rect x="912" y="850" width="5.62" height="62.5" fill="#0000fb" stroke="#0000b4" stroke-width="0.6"/>
<rect x="917.62" y="849.35" width="5.62" height="63.15" fill="#0000fb" stroke="#0000b4" stroke-width="0.6"/>
<rect x="923.25" y="846.93" width="5.62" height="65.57" fill="#0000fb" stroke="#0000b4" stroke-width="0.6"/>
<rect x="928.87" y="846.38" width="5.62" height="66.12" fill="#0000fb" stroke="#0000b4" stroke-width="0.6"/>
<rect x="934.49" y="842.94" width="5.62" height="69.56" fill="#0000fb" stroke="#0000b4" stroke-width="0.6"/>
<rect x="940.11" y="843.96" width="5.62" height="68.54" fill="#0000fb" stroke="#0000b4" stroke-width="0.6"/>
<rect x="945.73" y="843.49" width="5.62" height="69.01" fill="#0000fb" stroke="#0000b4" stroke-width="0.6"/>
<rect x="951.35" y="838.84" width="5.62" height="73.66" fill="#0000fb" stroke="#0000b4" stroke-width="0.6"/>
<rect x="956.97" y="838.84" width="5.62" height="73.66" fill="#0000fb" stroke="#0000b4" stroke-width="0.6"/>
<rect x="962.59" y="841.73" width="5.62" height="70.77" fill="#0000fb" stroke="#0000b4" stroke-width="0.6"/>
<rect x="968.21" y="839.5" width="5.62" height="73" fill="#0000fb" stroke="#0000b4" stroke-width="0.6"/>
<rect x="973.84" y="837.45" width="5.62" height="75.05" fill="#0000fb" stroke="#0000b4" stroke-width="0.6"/>
<rect x="979.46" y="834.01" width="5.62" height="78.49" fill="#0000fb" stroke="#0000b4" stroke-width="0.6"/>
<rect x="985.08" y="832.33" width="5.62" height="80.17" fill="#0000fb" stroke="#0000b4" stroke-width="0.6"/>
<rect x="990.7" y="819.78" width="5.62" height="92.72" fill="#0000fb" stroke="#0000b4" stroke-width="0.6"/>
<rect x="996.32" y="819.78" width="5.62" height="92.72" fill="#0000fb" stroke="#0000b4" stroke-width="0.6"/>
<rect x="1001.94" y="819.78" width="5.62" height="92.72" fill="#0000fb" stroke="#0000b4" stroke-width="0.6"/>
<rect x="1007.56" y="820.34" width="5.62" height="92.16" fill="#0000fb" stroke="#0000b4" stroke-width="0.6"/>
<rect x="1013.18" y="816.8" width="5.62" height="95.7" fill="#0000fb" stroke="#0000b4" stroke-width="0.6"/>
<rect x="1018.8" y="802.57" width="5.62" height="109.93" fill="#0000fb" stroke="#0000b4" stroke-width="0.6"/>
<rect x="1024.42" y="797.92" width="5.62" height="114.58" fill="#0000fb" stroke="#0000b4" stroke-width="0.6"/>
<rect x="1030.05" y="794.48" width="5.62" height="118.02" fill="#0000fb" stroke="#0000b4" stroke-width="0.6"/>
<rect x="1035.67" y="790.67" width="5.62" height="121.83" fill="#0000fb" stroke="#0000b4" stroke-width="0.6"/>
<rect x="1041.29" y="783.32" width="5.62" height="129.18" fill="#0000fb" stroke="#0000b4" stroke-width="0.6"/>
<rect x="1046.91" y="783.88" width="5.62" height="128.62" fill="#0000fb" stroke="#0000b4" stroke-width="0.6"/>
<rect x="1052.53" y="774.77" width="5.62" height="137.73" fill="#0000fb" stroke="#0000b4" stroke-width="0.6"/>
<rect x="1058.15" y="772.16" width="5.62" height="140.34" fill="#0000fb" stroke="#0000b4" stroke-width="0.6"/>
<rect x="1063.77" y="770.4" width="5.62" height="142.1" fill="#0000fb" stroke="#0000b4" stroke-width="0.6"/>
<rect x="1069.39" y="761.38" width="5.62" height="151.12" fill="#0000fb" stroke="#0000b4" stroke-width="0.6"/>
<rect x="1075.01" y="764.91" width="5.62" height="147.59" fill="#0000fb" stroke="#0000b4" stroke-width="0.6"/>
<rect x="1080.63" y="751.89" width="5.62" height="160.61" fill="#0000fb" stroke="#0000b4" stroke-width="0.6"/>
<rect x="1086.26" y="749.84" width="5.62" height="162.66" fill="#0000fb" stroke="#0000b4" stroke-width="0.6"/>
<rect x="1091.88" y="747.8" width="5.62" height="164.7" fill="#0000fb" stroke="#0000b4" stroke-width="0.6"/>
<rect x="1097.5" y="746.4" width="5.62" height="166.1" fill="#0000fb" stroke="#0000b4" stroke-width="0.6"/>
<rect x="1103.12" y="737.38" width="5.62" height="175.12" fill="#0000fb" stroke="#0000b4" stroke-width="0.6"/>
<rect x="1108.74" y="731.89" width="5.62" height="180.61" fill="#0000fb" stroke="#0000b4" stroke-width="0.6"/>
<rect x="1114.36" y="726.41" width="5.62" height="186.09" fill="#0000fb" stroke="#0000b4" stroke-width="0.6"/>
<rect x="1119.98" y="717.01" width="5.62" height="195.49" fill="#0000fb" stroke="#0000b4" stroke-width="0.6"/>
<rect x="1125.6" y="711.15" width="5.62" height="201.35" fill="#0000fb" stroke="#0000b4" stroke-width="0.6"/>
<rect x="1131.22" y="708.92" width="5.62" height="203.58" fill="#0000fb" stroke="#0000b4" stroke-width="0.6"/>
<rect x="1136.84" y="697.3" width="5.62" height="215.2" fill="#0000fb" stroke="#0000b4" stroke-width="0.6"/>
<rect x="1142.47" y="691.44" width="5.62" height="221.06" fill="#0000fb" stroke="#0000b4" stroke-width="0.6"/>
<rect x="1148.09" y="677.21" width="5.62" height="235.29" fill="#0000fb" stroke="#0000b4" stroke-width="0.6"/>
<rect x="1153.71" y="676.56" width="5.62" height="235.94" fill="#0000fb" stroke="#0000b4" stroke-width="0.6"/>
<rect x="1159.33" y="676.56" width="5.62" height="235.94" fill="#0000fb" stroke="#0000b4" stroke-width="0.6"/>
<rect x="1164.95" y="676.09" width="5.62" height="236.41" fill="#0000fb" stroke="#0000b4" stroke-width="0.6"/>
<rect x="1170.57" y="669.49" width="5.62" height="243.01" fill="#0000fb" stroke="#0000b4" stroke-width="0.6"/>
<rect x="1176.19" y="673.96" width="5.62" height="238.54" fill="#0000fb" stroke="#0000b4" stroke-width="0.6"/>
<rect x="1181.81" y="670.61" width="5.62" height="241.89" fill="#0000fb" stroke="#0000b4" stroke-width="0.6"/>
<rect x="1187.43" y="673.96" width="5.62" height="238.54" fill="#0000fb" stroke="#0000b4" stroke-width="0.6"/>
<rect x="1193.05" y="695.35" width="5.62" height="217.15" fill="#0000fb" stroke="#0000b4" stroke-width="0.6"/>
<rect x="1198.68" y="709.57" width="5.62" height="202.93" fill="#0000fb" stroke="#0000b4" stroke-width="0.6"/>
<rect x="1204.3" y="720.92" width="5.62" height="191.58" fill="#0000fb" stroke="#0000b4" stroke-width="0.6"/>
<rect x="1209.92" y="741.1" width="5.62" height="171.4" fill="#0000fb" stroke="#0000b4" stroke-width="0.6"/>
<rect x="1215.54" y="764.07" width="5.62" height="148.43" fill="#0000fb" stroke="#0000b4" stroke-width="0.6"/>
<rect x="1221.16" y="787.23" width="5.62" height="125.27" fill="#0000fb" stroke="#0000b4" stroke-width="0.6"/>
<rect x="1226.78" y="808.9" width="5.62" height="103.6" fill="#0000fb" stroke="#0000b4" stroke-width="0.6"/>
<rect x="1232.4" y="831.87" width="5.62" height="80.63" fill="#0000fb" stroke="#0000b4" stroke-width="0.6"/>
<rect x="1238.02" y="857.26" width="5.62" height="55.24" fill="#0000fb" stroke="#0000b4" stroke-width="0.6"/>
<rect x="1243.64" y="875.21" width="5.62" height="37.29" fill="#0000fb" stroke="#0000b4" stroke-width="0.6"/>
<rect x="1249.26" y="889.44" width="5.62" height="23.06" fill="#0000fb" stroke="#0000b4" stroke-width="0.6"/>
<rect x="1254.88" y="904.69" width="5.62" height="7.81" fill="#0000fb" stroke="#0000b4" stroke-width="0.6"/>
<rect x="704.4" y="632.6" width="561.4" height="279.9" fill="none" stroke="#0a0a0a" stroke-width="2.5"/>
<line x1="726.51" y1="912.5" x2="726.51" y2="902.5" stroke="#0a0a0a" stroke-width="2.3"/>
<line x1="771.48" y1="912.5" x2="771.48" y2="902.5" stroke="#0a0a0a" stroke-width="2.3"/>
<line x1="749" y1="912.5" x2="749" y2="906.5" stroke="#0a0a0a" stroke-width="2.3"/>
<line x1="833.8" y1="632.6" x2="833.8" y2="642.6" stroke="#0a0a0a" stroke-width="2.3"/>
<line x1="1048.7" y1="632.6" x2="1048.7" y2="642.6" stroke="#0a0a0a" stroke-width="2.3"/>
<line x1="726.9" y1="632.6" x2="726.9" y2="638.1" stroke="#0a0a0a" stroke-width="2.3"/>
<line x1="941.3" y1="632.6" x2="941.3" y2="638.1" stroke="#0a0a0a" stroke-width="2.3"/>
<line x1="1155.7" y1="632.6" x2="1155.7" y2="638.1" stroke="#0a0a0a" stroke-width="2.3"/>
<line x1="704.4" y1="726.5" x2="715.4" y2="726.5" stroke="#0a0a0a" stroke-width="2.3"/>
<line x1="704.4" y1="819.5" x2="715.4" y2="819.5" stroke="#0a0a0a" stroke-width="2.3"/>
<line x1="704.4" y1="680" x2="709.9" y2="680" stroke="#0a0a0a" stroke-width="2.3"/>
<line x1="704.4" y1="773" x2="709.9" y2="773" stroke="#0a0a0a" stroke-width="2.3"/>
<line x1="704.4" y1="866" x2="709.9" y2="866" stroke="#0a0a0a" stroke-width="2.3"/>
<line x1="1265.8" y1="726.5" x2="1254.8" y2="726.5" stroke="#0a0a0a" stroke-width="2.3"/>
<line x1="1265.8" y1="819.5" x2="1254.8" y2="819.5" stroke="#0a0a0a" stroke-width="2.3"/>
<line x1="1265.8" y1="680" x2="1259.8" y2="680" stroke="#0a0a0a" stroke-width="2.3"/>
<line x1="1265.8" y1="773" x2="1259.8" y2="773" stroke="#0a0a0a" stroke-width="2.3"/>
<line x1="1265.8" y1="866" x2="1259.8" y2="866" stroke="#0a0a0a" stroke-width="2.3"/>
<text x="726.51" y="933" font-size="14.8" font-family='"Liberation Sans", Arial, sans-serif' text-anchor="middle" fill="#333" stroke="#333" stroke-width="0.55">52</text>
<text x="771.48" y="933" font-size="14.8" font-family='"Liberation Sans", Arial, sans-serif' text-anchor="middle" fill="#333" stroke="#333" stroke-width="0.55">56</text>
<text x="816.45" y="933" font-size="14.8" font-family='"Liberation Sans", Arial, sans-serif' text-anchor="middle" fill="#333" stroke="#333" stroke-width="0.55">60</text>
<text x="861.42" y="933" font-size="14.8" font-family='"Liberation Sans", Arial, sans-serif' text-anchor="middle" fill="#333" stroke="#333" stroke-width="0.55">64</text>
<text x="906.38" y="933" font-size="14.8" font-family='"Liberation Sans", Arial, sans-serif' text-anchor="middle" fill="#333" stroke="#333" stroke-width="0.55">68</text>
<text x="951.35" y="933" font-size="14.8" font-family='"Liberation Sans", Arial, sans-serif' text-anchor="middle" fill="#333" stroke="#333" stroke-width="0.55">72</text>
<text x="996.32" y="933" font-size="14.8" font-family='"Liberation Sans", Arial, sans-serif' text-anchor="middle" fill="#333" stroke="#333" stroke-width="0.55">76</text>
<text x="1041.29" y="933" font-size="14.8" font-family='"Liberation Sans", Arial, sans-serif' text-anchor="middle" fill="#333" stroke="#333" stroke-width="0.55">80</text>
<text x="1086.26" y="933" font-size="14.8" font-family='"Liberation Sans", Arial, sans-serif' text-anchor="middle" fill="#333" stroke="#333" stroke-width="0.55">84</text>
<text x="1131.22" y="933" font-size="14.8" font-family='"Liberation Sans", Arial, sans-serif' text-anchor="middle" fill="#333" stroke="#333" stroke-width="0.55">88</text>
<text x="1176.19" y="933" font-size="14.8" font-family='"Liberation Sans", Arial, sans-serif' text-anchor="middle" fill="#333" stroke="#333" stroke-width="0.55">92</text>
<text x="1221.16" y="933" font-size="14.8" font-family='"Liberation Sans", Arial, sans-serif' text-anchor="middle" fill="#333" stroke="#333" stroke-width="0.55">96</text>
<text x="1266.13" y="933" font-size="14.8" font-family='"Liberation Sans", Arial, sans-serif' text-anchor="middle" fill="#333" stroke="#333" stroke-width="0.55">100</text>
<text x="699" y="917.1" font-size="14.8" font-family='"Liberation Sans", Arial, sans-serif' text-anchor="end" fill="#333" stroke="#333" stroke-width="0.55">0</text>
<text x="699" y="824.1" font-size="14.8" font-family='"Liberation Sans", Arial, sans-serif' text-anchor="end" fill="#333" stroke="#333" stroke-width="0.55">1000</text>
<text x="699" y="731.1" font-size="14.8" font-family='"Liberation Sans", Arial, sans-serif' text-anchor="end" fill="#333" stroke="#333" stroke-width="0.55">2000</text>
<text x="699" y="638.1" font-size="14.8" font-family='"Liberation Sans", Arial, sans-serif' text-anchor="end" fill="#333" stroke="#333" stroke-width="0.55">3000</text>
<text transform="translate(656 772.5) rotate(-90)" font-size="24.5" font-family='"Liberation Serif", "Times New Roman", serif' text-anchor="middle" fill="#262626" textLength="66" lengthAdjust="spacingAndGlyphs" stroke="#262626" stroke-width="0.4">Counts</text>
<text x="718" y="672.6" font-size="34" font-family='"Liberation Serif", "Times New Roman", serif' text-anchor="start" fill="#1c1c1c" stroke="#1c1c1c" stroke-width="0.3">(f)</text>
<text x="772" y="665" font-size="21.3" font-family='"Liberation Serif", "Times New Roman", serif' text-anchor="start" fill="#262626" stroke="#262626" stroke-width="0.3">100,000</text>
<text x="772" y="691" font-size="21.3" font-family='"Liberation Serif", "Times New Roman", serif' text-anchor="start" fill="#262626" stroke="#262626" stroke-width="0.3">counts</text>
<text x="739.5" y="741.5" font-size="28.6" font-family='"Liberation Serif", "Times New Roman", serif' fill="#1c1c1c" stroke="#1c1c1c" stroke-width="0.3">R<tspan dy="6.29" font-size="19.45">s</tspan><tspan dy="-6.29"> </tspan>= 0.5 Ω</text>
<text x="739.5" y="775.5" font-size="28.6" font-family='"Liberation Serif", "Times New Roman", serif' fill="#1c1c1c" stroke="#1c1c1c" stroke-width="0.3">R<tspan dy="6.29" font-size="19.45">e</tspan><tspan dy="-6.29"> </tspan>= R<tspan dy="6.29" font-size="19.45">i</tspan><tspan dy="-6.29"> </tspan>= 0.25 Ω</text>
<text x="739.5" y="809.5" font-size="28.6" font-family='"Liberation Serif", "Times New Roman", serif' fill="#1c1c1c" stroke="#1c1c1c" stroke-width="0.3">C = 0.1 – 2.0 F</text>
<rect x="728.88" y="1229.75" width="6.37" height="0.75" fill="#0000fb" stroke="#0000b4" stroke-width="0.6"/>
<rect x="735.25" y="1227.89" width="6.37" height="2.61" fill="#0000fb" stroke="#0000b4" stroke-width="0.6"/>
<rect x="741.62" y="1225.65" width="6.37" height="4.85" fill="#0000fb" stroke="#0000b4" stroke-width="0.6"/>
<rect x="747.99" y="1224.16" width="6.37" height="6.34" fill="#0000fb" stroke="#0000b4" stroke-width="0.6"/>
<rect x="754.36" y="1220.99" width="6.37" height="9.51" fill="#0000fb" stroke="#0000b4" stroke-width="0.6"/>
<rect x="760.73" y="1218.57" width="6.37" height="11.93" fill="#0000fb" stroke="#0000b4" stroke-width="0.6"/>
<rect x="767.1" y="1213.44" width="6.37" height="17.06" fill="#0000fb" stroke="#0000b4" stroke-width="0.6"/>
<rect x="773.47" y="1209.16" width="6.37" height="21.34" fill="#0000fb" stroke="#0000b4" stroke-width="0.6"/>
<rect x="779.84" y="1201.7" width="6.37" height="28.8" fill="#0000fb" stroke="#0000b4" stroke-width="0.6"/>
<rect x="786.21" y="1196.02" width="6.37" height="34.48" fill="#0000fb" stroke="#0000b4" stroke-width="0.6"/>
<rect x="792.58" y="1189.49" width="6.37" height="41.01" fill="#0000fb" stroke="#0000b4" stroke-width="0.6"/>
<rect x="798.95" y="1184.83" width="6.37" height="45.67" fill="#0000fb" stroke="#0000b4" stroke-width="0.6"/>
<rect x="805.32" y="1174.49" width="6.37" height="56.01" fill="#0000fb" stroke="#0000b4" stroke-width="0.6"/>
<rect x="811.69" y="1167.96" width="6.37" height="62.54" fill="#0000fb" stroke="#0000b4" stroke-width="0.6"/>
<rect x="818.06" y="1163.21" width="6.37" height="67.29" fill="#0000fb" stroke="#0000b4" stroke-width="0.6"/>
<rect x="824.43" y="1154.82" width="6.37" height="75.68" fill="#0000fb" stroke="#0000b4" stroke-width="0.6"/>
<rect x="830.8" y="1148.76" width="6.37" height="81.74" fill="#0000fb" stroke="#0000b4" stroke-width="0.6"/>
<rect x="837.17" y="1145.97" width="6.37" height="84.53" fill="#0000fb" stroke="#0000b4" stroke-width="0.6"/>
<rect x="843.54" y="1145.41" width="6.37" height="85.09" fill="#0000fb" stroke="#0000b4" stroke-width="0.6"/>
<rect x="849.91" y="1130.96" width="6.37" height="99.54" fill="#0000fb" stroke="#0000b4" stroke-width="0.6"/>
<rect x="856.28" y="1128.54" width="6.37" height="101.96" fill="#0000fb" stroke="#0000b4" stroke-width="0.6"/>
<rect x="862.65" y="1125.74" width="6.37" height="104.76" fill="#0000fb" stroke="#0000b4" stroke-width="0.6"/>
<rect x="869.02" y="1117.26" width="6.37" height="113.24" fill="#0000fb" stroke="#0000b4" stroke-width="0.6"/>
<rect x="875.39" y="1111.67" width="6.37" height="118.83" fill="#0000fb" stroke="#0000b4" stroke-width="0.6"/>
<rect x="881.76" y="1103.19" width="6.37" height="127.31" fill="#0000fb" stroke="#0000b4" stroke-width="0.6"/>
<rect x="888.13" y="1102.82" width="6.37" height="127.68" fill="#0000fb" stroke="#0000b4" stroke-width="0.6"/>
<rect x="894.5" y="1098.53" width="6.37" height="131.97" fill="#0000fb" stroke="#0000b4" stroke-width="0.6"/>
<rect x="900.87" y="1096.11" width="6.37" height="134.39" fill="#0000fb" stroke="#0000b4" stroke-width="0.6"/>
<rect x="907.24" y="1084.46" width="6.37" height="146.04" fill="#0000fb" stroke="#0000b4" stroke-width="0.6"/>
<rect x="913.61" y="1082.03" width="6.37" height="148.47" fill="#0000fb" stroke="#0000b4" stroke-width="0.6"/>
<rect x="919.98" y="1078.86" width="6.37" height="151.64" fill="#0000fb" stroke="#0000b4" stroke-width="0.6"/>
<rect x="926.35" y="1064.79" width="6.37" height="165.71" fill="#0000fb" stroke="#0000b4" stroke-width="0.6"/>
<rect x="932.72" y="1069.82" width="6.37" height="160.68" fill="#0000fb" stroke="#0000b4" stroke-width="0.6"/>
<rect x="939.09" y="1054.82" width="6.37" height="175.68" fill="#0000fb" stroke="#0000b4" stroke-width="0.6"/>
<rect x="945.46" y="1053.51" width="6.37" height="176.99" fill="#0000fb" stroke="#0000b4" stroke-width="0.6"/>
<rect x="951.83" y="1052.58" width="6.37" height="177.92" fill="#0000fb" stroke="#0000b4" stroke-width="0.6"/>
<rect x="958.2" y="1050.34" width="6.37" height="180.16" fill="#0000fb" stroke="#0000b4" stroke-width="0.6"/>
<rect x="964.57" y="1049.79" width="6.37" height="180.71" fill="#0000fb" stroke="#0000b4" stroke-width="0.6"/>
<rect x="970.94" y="1031.98" width="6.37" height="198.52" fill="#0000fb" stroke="#0000b4" stroke-width="0.6"/>
<rect x="977.31" y="1037.58" width="6.37" height="192.92" fill="#0000fb" stroke="#0000b4" stroke-width="0.6"/>
<rect x="983.68" y="1033.85" width="6.37" height="196.65" fill="#0000fb" stroke="#0000b4" stroke-width="0.6"/>
<rect x="990.05" y="1023.5" width="6.37" height="207" fill="#0000fb" stroke="#0000b4" stroke-width="0.6"/>
<rect x="996.42" y="1018.28" width="6.37" height="212.22" fill="#0000fb" stroke="#0000b4" stroke-width="0.6"/>
<rect x="1002.79" y="1018.28" width="6.37" height="212.22" fill="#0000fb" stroke="#0000b4" stroke-width="0.6"/>
<rect x="1009.16" y="1028.26" width="6.37" height="202.24" fill="#0000fb" stroke="#0000b4" stroke-width="0.6"/>
<rect x="1015.53" y="1014.74" width="6.37" height="215.76" fill="#0000fb" stroke="#0000b4" stroke-width="0.6"/>
<rect x="1021.9" y="1034.41" width="6.37" height="196.09" fill="#0000fb" stroke="#0000b4" stroke-width="0.6"/>
<rect x="1028.27" y="1031.61" width="6.37" height="198.89" fill="#0000fb" stroke="#0000b4" stroke-width="0.6"/>
<rect x="1034.64" y="1035.34" width="6.37" height="195.16" fill="#0000fb" stroke="#0000b4" stroke-width="0.6"/>
<rect x="1041.01" y="1028.26" width="6.37" height="202.24" fill="#0000fb" stroke="#0000b4" stroke-width="0.6"/>
<rect x="1047.38" y="1037.58" width="6.37" height="192.92" fill="#0000fb" stroke="#0000b4" stroke-width="0.6"/>
<rect x="1053.75" y="1034.41" width="6.37" height="196.09" fill="#0000fb" stroke="#0000b4" stroke-width="0.6"/>
<rect x="1060.12" y="1038.88" width="6.37" height="191.62" fill="#0000fb" stroke="#0000b4" stroke-width="0.6"/>
<rect x="1066.49" y="1035.99" width="6.37" height="194.51" fill="#0000fb" stroke="#0000b4" stroke-width="0.6"/>
<rect x="1072.86" y="1035.62" width="6.37" height="194.88" fill="#0000fb" stroke="#0000b4" stroke-width="0.6"/>
<rect x="1079.23" y="1046.9" width="6.37" height="183.6" fill="#0000fb" stroke="#0000b4" stroke-width="0.6"/>
<rect x="1085.6" y="1044.1" width="6.37" height="186.4" fill="#0000fb" stroke="#0000b4" stroke-width="0.6"/>
<rect x="1091.97" y="1052.86" width="6.37" height="177.64" fill="#0000fb" stroke="#0000b4" stroke-width="0.6"/>
<rect x="1098.34" y="1053.98" width="6.37" height="176.52" fill="#0000fb" stroke="#0000b4" stroke-width="0.6"/>
<rect x="1104.71" y="1059.66" width="6.37" height="170.84" fill="#0000fb" stroke="#0000b4" stroke-width="0.6"/>
<rect x="1111.08" y="1067.49" width="6.37" height="163.01" fill="#0000fb" stroke="#0000b4" stroke-width="0.6"/>
<rect x="1117.45" y="1076.91" width="6.37" height="153.59" fill="#0000fb" stroke="#0000b4" stroke-width="0.6"/>
<rect x="1123.82" y="1091.91" width="6.37" height="138.59" fill="#0000fb" stroke="#0000b4" stroke-width="0.6"/>
<rect x="1130.19" y="1094.15" width="6.37" height="136.35" fill="#0000fb" stroke="#0000b4" stroke-width="0.6"/>
<rect x="1136.56" y="1105.89" width="6.37" height="124.61" fill="#0000fb" stroke="#0000b4" stroke-width="0.6"/>
<rect x="1142.93" y="1116.24" width="6.37" height="114.26" fill="#0000fb" stroke="#0000b4" stroke-width="0.6"/>
<rect x="1149.3" y="1130.31" width="6.37" height="100.19" fill="#0000fb" stroke="#0000b4" stroke-width="0.6"/>
<rect x="1155.67" y="1139.72" width="6.37" height="90.78" fill="#0000fb" stroke="#0000b4" stroke-width="0.6"/>
<rect x="1162.04" y="1149.98" width="6.37" height="80.52" fill="#0000fb" stroke="#0000b4" stroke-width="0.6"/>
<rect x="1168.41" y="1160.32" width="6.37" height="70.18" fill="#0000fb" stroke="#0000b4" stroke-width="0.6"/>
<rect x="1174.78" y="1163.68" width="6.37" height="66.82" fill="#0000fb" stroke="#0000b4" stroke-width="0.6"/>
<rect x="1181.15" y="1177.19" width="6.37" height="53.31" fill="#0000fb" stroke="#0000b4" stroke-width="0.6"/>
<rect x="1187.52" y="1182.78" width="6.37" height="47.72" fill="#0000fb" stroke="#0000b4" stroke-width="0.6"/>
<rect x="1193.89" y="1192.57" width="6.37" height="37.93" fill="#0000fb" stroke="#0000b4" stroke-width="0.6"/>
<rect x="1200.26" y="1194.62" width="6.37" height="35.88" fill="#0000fb" stroke="#0000b4" stroke-width="0.6"/>
<rect x="1206.63" y="1201.61" width="6.37" height="28.89" fill="#0000fb" stroke="#0000b4" stroke-width="0.6"/>
<rect x="1213" y="1207.2" width="6.37" height="23.3" fill="#0000fb" stroke="#0000b4" stroke-width="0.6"/>
<rect x="1219.37" y="1212.42" width="6.37" height="18.08" fill="#0000fb" stroke="#0000b4" stroke-width="0.6"/>
<rect x="1225.74" y="1216.24" width="6.37" height="14.26" fill="#0000fb" stroke="#0000b4" stroke-width="0.6"/>
<rect x="1232.11" y="1218.1" width="6.37" height="12.4" fill="#0000fb" stroke="#0000b4" stroke-width="0.6"/>
<rect x="1238.48" y="1221.27" width="6.37" height="9.23" fill="#0000fb" stroke="#0000b4" stroke-width="0.6"/>
<rect x="1244.85" y="1224.44" width="6.37" height="6.06" fill="#0000fb" stroke="#0000b4" stroke-width="0.6"/>
<rect x="1251.22" y="1227.24" width="6.37" height="3.26" fill="#0000fb" stroke="#0000b4" stroke-width="0.6"/>
<rect x="703.4" y="951" width="560.6" height="279.5" fill="none" stroke="#3a3a3a" stroke-width="2"/>
<line x1="728.88" y1="1230.5" x2="728.88" y2="1224.5" stroke="#3a3a3a" stroke-width="1.9"/>
<line x1="754.36" y1="951" x2="754.36" y2="961" stroke="#3a3a3a" stroke-width="1.9"/>
<line x1="881.76" y1="951" x2="881.76" y2="961" stroke="#3a3a3a" stroke-width="1.9"/>
<line x1="1009.16" y1="951" x2="1009.16" y2="961" stroke="#3a3a3a" stroke-width="1.9"/>
<line x1="1136.56" y1="951" x2="1136.56" y2="961" stroke="#3a3a3a" stroke-width="1.9"/>
<line x1="818.06" y1="951" x2="818.06" y2="956.5" stroke="#3a3a3a" stroke-width="1.9"/>
<line x1="945.46" y1="951" x2="945.46" y2="956.5" stroke="#3a3a3a" stroke-width="1.9"/>
<line x1="1072.86" y1="951" x2="1072.86" y2="956.5" stroke="#3a3a3a" stroke-width="1.9"/>
<line x1="1200.26" y1="951" x2="1200.26" y2="956.5" stroke="#3a3a3a" stroke-width="1.9"/>
<line x1="703.4" y1="1044.1" x2="713.4" y2="1044.1" stroke="#3a3a3a" stroke-width="1.9"/>
<line x1="703.4" y1="1137.3" x2="713.4" y2="1137.3" stroke="#3a3a3a" stroke-width="1.9"/>
<line x1="703.4" y1="997.5" x2="708.9" y2="997.5" stroke="#3a3a3a" stroke-width="1.9"/>
<line x1="703.4" y1="1090.7" x2="708.9" y2="1090.7" stroke="#3a3a3a" stroke-width="1.9"/>
<line x1="703.4" y1="1183.9" x2="708.9" y2="1183.9" stroke="#3a3a3a" stroke-width="1.9"/>
<line x1="1264" y1="1044.1" x2="1254" y2="1044.1" stroke="#3a3a3a" stroke-width="1.9"/>
<line x1="1264" y1="1137.3" x2="1254" y2="1137.3" stroke="#3a3a3a" stroke-width="1.9"/>
<line x1="1264" y1="997.5" x2="1258.5" y2="997.5" stroke="#3a3a3a" stroke-width="1.9"/>
<line x1="1264" y1="1090.7" x2="1258.5" y2="1090.7" stroke="#3a3a3a" stroke-width="1.9"/>
<line x1="1264" y1="1183.9" x2="1258.5" y2="1183.9" stroke="#3a3a3a" stroke-width="1.9"/>
<text x="703.4" y="1250.3" font-size="14.8" font-family='"Liberation Sans", Arial, sans-serif' text-anchor="middle" fill="#333" stroke="#333" stroke-width="0.55">78</text>
<text x="754.36" y="1250.3" font-size="14.8" font-family='"Liberation Sans", Arial, sans-serif' text-anchor="middle" fill="#333" stroke="#333" stroke-width="0.55">80</text>
<text x="805.32" y="1250.3" font-size="14.8" font-family='"Liberation Sans", Arial, sans-serif' text-anchor="middle" fill="#333" stroke="#333" stroke-width="0.55">82</text>
<text x="856.28" y="1250.3" font-size="14.8" font-family='"Liberation Sans", Arial, sans-serif' text-anchor="middle" fill="#333" stroke="#333" stroke-width="0.55">84</text>
<text x="907.24" y="1250.3" font-size="14.8" font-family='"Liberation Sans", Arial, sans-serif' text-anchor="middle" fill="#333" stroke="#333" stroke-width="0.55">86</text>
<text x="958.2" y="1250.3" font-size="14.8" font-family='"Liberation Sans", Arial, sans-serif' text-anchor="middle" fill="#333" stroke="#333" stroke-width="0.55">88</text>
<text x="1009.16" y="1250.3" font-size="14.8" font-family='"Liberation Sans", Arial, sans-serif' text-anchor="middle" fill="#333" stroke="#333" stroke-width="0.55">90</text>
<text x="1060.12" y="1250.3" font-size="14.8" font-family='"Liberation Sans", Arial, sans-serif' text-anchor="middle" fill="#333" stroke="#333" stroke-width="0.55">92</text>
<text x="1111.08" y="1250.3" font-size="14.8" font-family='"Liberation Sans", Arial, sans-serif' text-anchor="middle" fill="#333" stroke="#333" stroke-width="0.55">94</text>
<text x="1162.04" y="1250.3" font-size="14.8" font-family='"Liberation Sans", Arial, sans-serif' text-anchor="middle" fill="#333" stroke="#333" stroke-width="0.55">96</text>
<text x="1213" y="1250.3" font-size="14.8" font-family='"Liberation Sans", Arial, sans-serif' text-anchor="middle" fill="#333" stroke="#333" stroke-width="0.55">98</text>
<text x="1263.96" y="1250.3" font-size="14.8" font-family='"Liberation Sans", Arial, sans-serif' text-anchor="middle" fill="#333" stroke="#333" stroke-width="0.55">100</text>
<text x="697" y="1235.1" font-size="14.8" font-family='"Liberation Sans", Arial, sans-serif' text-anchor="end" fill="#333" stroke="#333" stroke-width="0.55">0</text>
<text x="697" y="1141.9" font-size="14.8" font-family='"Liberation Sans", Arial, sans-serif' text-anchor="end" fill="#333" stroke="#333" stroke-width="0.55">1000</text>
<text x="697" y="1048.7" font-size="14.8" font-family='"Liberation Sans", Arial, sans-serif' text-anchor="end" fill="#333" stroke="#333" stroke-width="0.55">2000</text>
<text x="697" y="955.5" font-size="14.8" font-family='"Liberation Sans", Arial, sans-serif' text-anchor="end" fill="#333" stroke="#333" stroke-width="0.55">3000</text>
<text transform="translate(654.8 1090.3) rotate(-90)" font-size="24.5" font-family='"Liberation Serif", "Times New Roman", serif' text-anchor="middle" fill="#262626" textLength="66" lengthAdjust="spacingAndGlyphs" stroke="#262626" stroke-width="0.4">Counts</text>
<text x="718.5" y="991" font-size="34" font-family='"Liberation Serif", "Times New Roman", serif' text-anchor="start" fill="#1c1c1c" stroke="#1c1c1c" stroke-width="0.3">(h)</text>
<text x="785.5" y="979.5" font-size="21.3" font-family='"Liberation Serif", "Times New Roman", serif' text-anchor="start" fill="#262626" stroke="#262626" stroke-width="0.3">100,000</text>
<text x="784" y="1005" font-size="21.3" font-family='"Liberation Serif", "Times New Roman", serif' text-anchor="start" fill="#262626" stroke="#262626" stroke-width="0.3">counts</text>
<text x="717" y="1039.5" font-size="28.7" font-family='"Liberation Serif", "Times New Roman", serif' fill="#1c1c1c" stroke="#1c1c1c" stroke-width="0.3">R<tspan dy="6.31" font-size="19.52">s</tspan><tspan dy="-6.31"> </tspan>= 0.05 – 1.0 Ω</text>
<text x="717" y="1074" font-size="28.7" font-family='"Liberation Serif", "Times New Roman", serif' fill="#1c1c1c" stroke="#1c1c1c" stroke-width="0.3">R<tspan dy="6.31" font-size="19.52">e</tspan><tspan dy="-6.31"> </tspan>= R<tspan dy="6.31" font-size="19.52">i</tspan><tspan dy="-6.31"> </tspan>= 0.25 Ω</text>
<text x="717" y="1109" font-size="28.7" font-family='"Liberation Serif", "Times New Roman", serif' fill="#1c1c1c" stroke="#1c1c1c" stroke-width="0.3">C = 1 F</text>
<text x="975.5" y="1272.5" font-size="23.5" font-family='"Liberation Serif", "Times New Roman", serif' text-anchor="middle" fill="#262626" textLength="240" lengthAdjust="spacingAndGlyphs" stroke="#262626" stroke-width="0.4">Spectrum Depression (%)</text>
</g>
</svg>
</body>
</html>
